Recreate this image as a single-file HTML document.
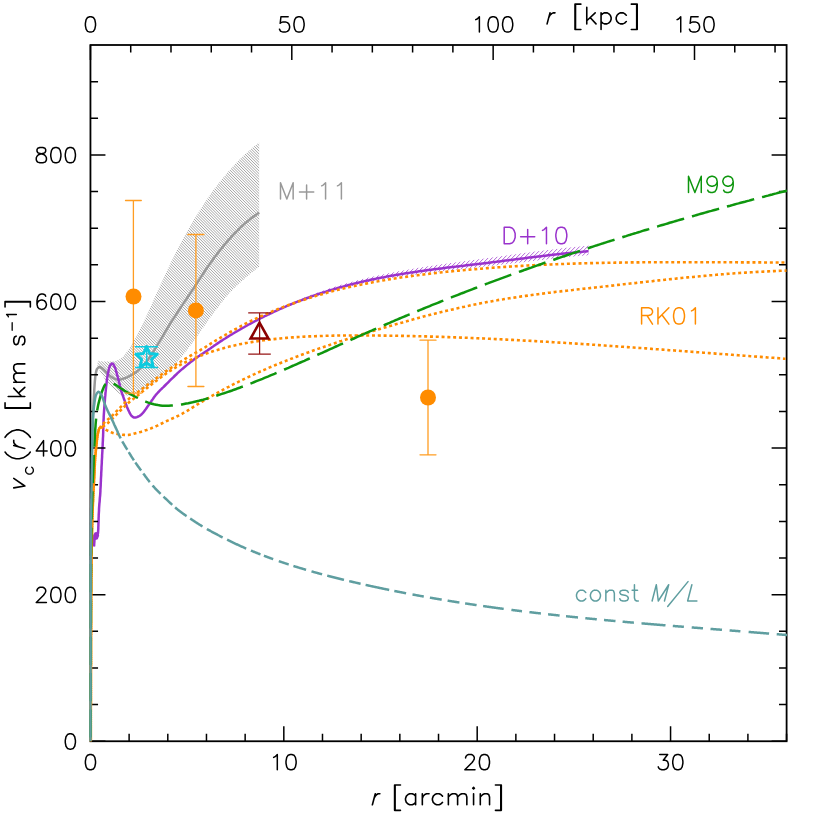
<!DOCTYPE html>
<html><head><meta charset="utf-8"><title>v_c(r)</title>
<style>
html,body{margin:0;padding:0;background:#fff;}
svg{display:block;}
body{font-family:"Liberation Sans",sans-serif;}
</style></head>
<body>
<svg width="830" height="830" viewBox="0 0 830 830">
<title>Circular velocity curves v_c(r)</title>
<desc>Axes: r [arcmin] (bottom, 0-36), r [kpc] (top, 0-150), v_c(r) [km s^-1] (left, 0-950). Curves: M+11 (grey, hatched band), D+10 (purple), M99 (green long-dashed), RK01 (orange dotted), const M/L (teal dashed). Data points with error bars.</desc>
<rect width="830" height="830" fill="#fff"/>

<!-- gray hatched band M+11 -->
<clipPath id="cg"><path d="M98.6 360.6 L100.0 360.9 L101.4 361.2 L102.8 361.4 L104.2 361.5 L105.6 361.5 L107.0 361.5 L108.5 361.5 L109.9 361.5 L111.3 361.5 L112.7 361.5 L114.1 361.3 L115.6 360.9 L117.0 360.5 L118.3 359.9 L119.5 359.4 L120.6 358.8 L121.7 358.0 L122.7 357.0 L123.7 356.0 L124.7 354.8 L125.6 353.6 L126.4 352.4 L127.3 351.2 L128.2 350.1 L129.0 348.9 L129.8 347.8 L130.5 346.6 L131.3 345.4 L132.0 344.1 L132.7 342.9 L133.5 341.7 L134.1 340.4 L134.8 339.2 L135.5 338.0 L136.2 336.7 L136.9 335.5 L137.5 334.2 L138.2 333.0 L138.8 331.7 L139.4 330.4 L140.1 329.2 L140.7 327.9 L141.3 326.6 L141.9 325.3 L142.5 324.1 L143.2 322.8 L143.8 321.5 L144.4 320.2 L145.0 318.9 L145.6 317.7 L146.2 316.4 L146.8 315.1 L147.4 313.8 L148.0 312.5 L148.6 311.2 L149.2 310.0 L149.7 308.7 L150.3 307.4 L150.9 306.1 L151.5 304.8 L152.1 303.5 L152.6 302.2 L153.2 300.9 L153.8 299.6 L154.4 298.3 L154.9 297.0 L155.5 295.7 L156.1 294.4 L156.7 293.1 L157.3 291.8 L157.8 290.6 L158.4 289.3 L159.0 288.0 L159.6 286.7 L160.2 285.4 L160.8 284.1 L161.4 282.8 L162.0 281.5 L162.6 280.3 L163.2 279.0 L163.8 277.7 L164.4 276.4 L164.9 275.1 L165.5 273.8 L166.1 272.5 L166.7 271.3 L167.3 270.0 L167.9 268.7 L168.6 267.4 L169.2 266.1 L169.8 264.9 L170.4 263.6 L171.0 262.3 L171.6 261.0 L172.2 259.8 L172.9 258.5 L173.5 257.2 L174.1 256.0 L174.8 254.7 L175.4 253.4 L176.0 252.2 L176.7 250.9 L177.3 249.6 L178.0 248.4 L178.6 247.1 L179.3 245.9 L179.9 244.6 L180.6 243.3 L181.2 242.1 L181.9 240.8 L182.6 239.6 L183.3 238.3 L183.9 237.1 L184.6 235.9 L185.3 234.6 L186.0 233.4 L186.7 232.1 L187.4 230.9 L188.1 229.7 L188.8 228.5 L189.5 227.2 L190.2 226.0 L190.9 224.8 L191.6 223.6 L192.4 222.3 L193.1 221.1 L193.8 219.9 L194.5 218.7 L195.3 217.5 L196.0 216.3 L196.8 215.1 L197.5 213.9 L198.3 212.7 L199.0 211.5 L199.8 210.3 L200.5 209.1 L201.3 207.9 L202.1 206.7 L202.8 205.5 L203.6 204.3 L204.4 203.1 L205.2 201.9 L206.0 200.8 L206.8 199.6 L207.6 198.4 L208.4 197.3 L209.2 196.1 L210.0 195.0 L210.8 193.8 L211.6 192.6 L212.5 191.5 L213.3 190.3 L214.1 189.2 L215.0 188.1 L215.8 186.9 L216.7 185.8 L217.6 184.7 L218.4 183.6 L219.3 182.4 L220.2 181.3 L221.1 180.2 L222.0 179.1 L222.9 178.1 L223.8 177.0 L224.7 175.9 L225.6 174.8 L226.5 173.7 L227.4 172.6 L228.4 171.6 L229.3 170.5 L230.2 169.4 L231.2 168.4 L232.2 167.3 L233.1 166.3 L234.1 165.2 L235.0 164.2 L236.0 163.2 L237.0 162.2 L238.0 161.1 L239.0 160.1 L240.0 159.1 L241.0 158.1 L242.0 157.2 L243.0 156.2 L244.0 155.2 L245.1 154.3 L246.1 153.3 L247.2 152.4 L248.2 151.4 L249.3 150.5 L250.4 149.6 L251.5 148.6 L252.5 147.7 L253.6 146.8 L254.7 145.9 L255.8 145.0 L257.0 144.1 L258.1 143.3 L259.2 142.4 L259.2 266.8 L258.3 267.5 L257.3 268.2 L256.4 268.9 L255.5 269.7 L254.6 270.4 L253.6 271.1 L252.7 271.9 L251.8 272.6 L250.9 273.3 L250.0 274.1 L249.1 274.8 L248.2 275.6 L247.3 276.3 L246.4 277.1 L245.6 277.9 L244.7 278.6 L243.8 279.4 L242.9 280.2 L242.1 281.0 L241.2 281.8 L240.3 282.5 L239.4 283.3 L238.6 284.1 L237.7 284.9 L236.9 285.7 L236.0 286.5 L235.2 287.3 L234.3 288.2 L233.5 289.0 L232.7 289.8 L231.8 290.7 L231.0 291.5 L230.2 292.3 L229.5 293.2 L228.7 294.1 L227.9 294.9 L227.1 295.8 L226.4 296.7 L225.6 297.6 L224.9 298.5 L224.1 299.4 L223.4 300.3 L222.7 301.2 L221.9 302.2 L221.2 303.1 L220.5 304.0 L219.8 304.9 L219.1 305.9 L218.3 306.8 L217.6 307.7 L216.9 308.7 L216.2 309.6 L215.5 310.6 L214.8 311.5 L214.1 312.4 L213.4 313.4 L212.7 314.3 L212.0 315.2 L211.3 316.2 L210.6 317.1 L210.0 318.1 L209.3 319.1 L208.6 320.0 L207.9 321.0 L207.3 321.9 L206.6 322.9 L205.9 323.8 L205.2 324.8 L204.6 325.8 L203.9 326.7 L203.2 327.7 L202.5 328.6 L201.8 329.6 L201.2 330.5 L200.5 331.5 L199.8 332.4 L199.1 333.4 L198.5 334.4 L197.8 335.3 L197.1 336.3 L196.4 337.2 L195.7 338.2 L195.1 339.1 L194.4 340.1 L193.7 341.0 L193.0 342.0 L192.3 342.9 L191.6 343.9 L190.9 344.8 L190.2 345.7 L189.5 346.7 L188.8 347.6 L188.1 348.5 L187.4 349.5 L186.7 350.4 L185.9 351.3 L185.2 352.2 L184.5 353.2 L183.8 354.1 L183.0 355.0 L182.3 355.9 L181.6 356.8 L180.8 357.7 L180.1 358.6 L179.3 359.5 L178.6 360.4 L177.8 361.3 L177.0 362.2 L176.2 363.1 L175.5 363.9 L174.7 364.8 L173.9 365.7 L173.1 366.5 L172.3 367.4 L171.5 368.2 L170.7 369.1 L169.8 369.9 L169.0 370.7 L168.2 371.6 L167.3 372.4 L166.5 373.2 L165.6 374.0 L164.7 374.7 L163.8 375.5 L162.9 376.2 L162.0 376.9 L161.1 377.7 L160.2 378.4 L159.2 379.1 L158.3 379.8 L157.3 380.5 L156.4 381.1 L155.4 381.8 L154.5 382.5 L153.5 383.1 L152.5 383.8 L151.5 384.4 L150.5 385.1 L149.5 385.7 L148.6 386.3 L147.6 387.0 L146.6 387.6 L145.6 388.2 L144.6 388.8 L143.5 389.3 L142.5 389.9 L141.5 390.5 L140.5 391.0 L139.4 391.6 L138.4 392.1 L137.4 392.7 L136.3 393.4 L135.3 394.1 L134.3 394.8 L133.2 395.3 L132.1 395.5 L131.0 395.6 L129.9 395.6 L128.7 395.6 L127.5 395.6 L126.3 395.6 L125.1 395.6 L124.0 395.6 L122.9 395.5 L121.8 395.1 L120.8 394.6 L119.8 393.9 L118.8 393.2 L117.8 392.4 L116.8 391.6 L115.9 390.8 L115.0 390.1 L114.1 389.4 L113.2 388.6 L112.3 387.8 L111.5 387.0 L110.6 386.2 L109.8 385.3 L109.0 384.4 L108.2 383.5 L107.5 382.6 L106.8 381.7 L106.1 380.8 L105.4 379.9 L104.8 379.0 L104.1 378.0 L103.5 377.0 L102.8 376.1 L102.2 375.1 L101.6 374.1 L101.0 373.0 L100.5 372.0 L99.9 371.0 L99.4 369.9 L98.9 368.8 L98.4 367.7 L97.9 366.6 L97.4 365.5 L97.0 364.4Z"/></clipPath>
<path d="M-165.00 140.00L95.00 400.00M-162.17 140.00L97.83 400.00M-159.34 140.00L100.66 400.00M-156.51 140.00L103.49 400.00M-153.69 140.00L106.31 400.00M-150.86 140.00L109.14 400.00M-148.03 140.00L111.97 400.00M-145.20 140.00L114.80 400.00M-142.37 140.00L117.63 400.00M-139.54 140.00L120.46 400.00M-136.72 140.00L123.28 400.00M-133.89 140.00L126.11 400.00M-131.06 140.00L128.94 400.00M-128.23 140.00L131.77 400.00M-125.40 140.00L134.60 400.00M-122.57 140.00L137.43 400.00M-119.75 140.00L140.25 400.00M-116.92 140.00L143.08 400.00M-114.09 140.00L145.91 400.00M-111.26 140.00L148.74 400.00M-108.43 140.00L151.57 400.00M-105.60 140.00L154.40 400.00M-102.77 140.00L157.23 400.00M-99.95 140.00L160.05 400.00M-97.12 140.00L162.88 400.00M-94.29 140.00L165.71 400.00M-91.46 140.00L168.54 400.00M-88.63 140.00L171.37 400.00M-85.80 140.00L174.20 400.00M-82.98 140.00L177.02 400.00M-80.15 140.00L179.85 400.00M-77.32 140.00L182.68 400.00M-74.49 140.00L185.51 400.00M-71.66 140.00L188.34 400.00M-68.83 140.00L191.17 400.00M-66.01 140.00L193.99 400.00M-63.18 140.00L196.82 400.00M-60.35 140.00L199.65 400.00M-57.52 140.00L202.48 400.00M-54.69 140.00L205.31 400.00M-51.86 140.00L208.14 400.00M-49.03 140.00L210.97 400.00M-46.21 140.00L213.79 400.00M-43.38 140.00L216.62 400.00M-40.55 140.00L219.45 400.00M-37.72 140.00L222.28 400.00M-34.89 140.00L225.11 400.00M-32.06 140.00L227.94 400.00M-29.24 140.00L230.76 400.00M-26.41 140.00L233.59 400.00M-23.58 140.00L236.42 400.00M-20.75 140.00L239.25 400.00M-17.92 140.00L242.08 400.00M-15.09 140.00L244.91 400.00M-12.26 140.00L247.74 400.00M-9.44 140.00L250.56 400.00M-6.61 140.00L253.39 400.00M-3.78 140.00L256.22 400.00M-0.95 140.00L259.05 400.00M1.88 140.00L261.88 400.00M4.71 140.00L264.71 400.00M7.53 140.00L267.53 400.00M10.36 140.00L270.36 400.00M13.19 140.00L273.19 400.00M16.02 140.00L276.02 400.00M18.85 140.00L278.85 400.00M21.68 140.00L281.68 400.00M24.50 140.00L284.50 400.00M27.33 140.00L287.33 400.00M30.16 140.00L290.16 400.00M32.99 140.00L292.99 400.00M35.82 140.00L295.82 400.00M38.65 140.00L298.65 400.00M41.48 140.00L301.48 400.00M44.30 140.00L304.30 400.00M47.13 140.00L307.13 400.00M49.96 140.00L309.96 400.00M52.79 140.00L312.79 400.00M55.62 140.00L315.62 400.00M58.45 140.00L318.45 400.00M61.27 140.00L321.27 400.00M64.10 140.00L324.10 400.00M66.93 140.00L326.93 400.00M69.76 140.00L329.76 400.00M72.59 140.00L332.59 400.00M75.42 140.00L335.42 400.00M78.24 140.00L338.24 400.00M81.07 140.00L341.07 400.00M83.90 140.00L343.90 400.00M86.73 140.00L346.73 400.00M89.56 140.00L349.56 400.00M92.39 140.00L352.39 400.00M95.22 140.00L355.22 400.00M98.04 140.00L358.04 400.00M100.87 140.00L360.87 400.00M103.70 140.00L363.70 400.00M106.53 140.00L366.53 400.00M109.36 140.00L369.36 400.00M112.19 140.00L372.19 400.00M115.01 140.00L375.01 400.00M117.84 140.00L377.84 400.00M120.67 140.00L380.67 400.00M123.50 140.00L383.50 400.00M126.33 140.00L386.33 400.00M129.16 140.00L389.16 400.00M131.98 140.00L391.98 400.00M134.81 140.00L394.81 400.00M137.64 140.00L397.64 400.00M140.47 140.00L400.47 400.00M143.30 140.00L403.30 400.00M146.13 140.00L406.13 400.00M148.96 140.00L408.96 400.00M151.78 140.00L411.78 400.00M154.61 140.00L414.61 400.00M157.44 140.00L417.44 400.00M160.27 140.00L420.27 400.00M163.10 140.00L423.10 400.00M165.93 140.00L425.93 400.00M168.75 140.00L428.75 400.00M171.58 140.00L431.58 400.00M174.41 140.00L434.41 400.00M177.24 140.00L437.24 400.00M180.07 140.00L440.07 400.00M182.90 140.00L442.90 400.00M185.72 140.00L445.72 400.00M188.55 140.00L448.55 400.00M191.38 140.00L451.38 400.00M194.21 140.00L454.21 400.00M197.04 140.00L457.04 400.00M199.87 140.00L459.87 400.00M202.70 140.00L462.70 400.00M205.52 140.00L465.52 400.00M208.35 140.00L468.35 400.00M211.18 140.00L471.18 400.00M214.01 140.00L474.01 400.00M216.84 140.00L476.84 400.00M219.67 140.00L479.67 400.00M222.49 140.00L482.49 400.00M225.32 140.00L485.32 400.00M228.15 140.00L488.15 400.00M230.98 140.00L490.98 400.00M233.81 140.00L493.81 400.00M236.64 140.00L496.64 400.00M239.47 140.00L499.47 400.00M242.29 140.00L502.29 400.00M245.12 140.00L505.12 400.00M247.95 140.00L507.95 400.00M250.78 140.00L510.78 400.00M253.61 140.00L513.61 400.00M256.44 140.00L516.44 400.00M259.26 140.00L519.26 400.00" clip-path="url(#cg)" stroke="#858585" stroke-width="0.75" fill="none"/>
<path d="M90.9 560.0 L90.9 558.5 L90.9 557.1 L90.9 555.6 L90.9 554.1 L90.9 552.6 L90.9 551.2 L90.9 549.7 L90.9 548.2 L90.9 546.8 L90.9 545.3 L90.9 543.8 L90.9 542.3 L91.0 540.9 L91.0 539.4 L91.0 537.9 L91.0 536.5 L91.0 535.0 L91.0 533.5 L91.0 532.0 L91.0 530.6 L91.0 529.1 L91.0 527.6 L91.0 526.2 L91.0 524.7 L91.0 523.2 L91.1 521.7 L91.1 520.3 L91.1 518.8 L91.1 517.3 L91.1 515.9 L91.1 514.4 L91.1 512.9 L91.1 511.4 L91.1 510.0 L91.1 508.5 L91.2 507.0 L91.2 505.6 L91.2 504.1 L91.2 502.6 L91.2 501.1 L91.2 499.7 L91.2 498.2 L91.2 496.7 L91.2 495.3 L91.2 493.8 L91.3 492.3 L91.3 490.8 L91.3 489.4 L91.3 487.9 L91.3 486.4 L91.3 484.9 L91.3 483.5 L91.4 482.0 L91.4 480.5 L91.4 479.1 L91.4 477.6 L91.4 476.1 L91.4 474.6 L91.5 473.2 L91.5 471.7 L91.5 470.2 L91.5 468.8 L91.5 467.3 L91.5 465.8 L91.6 464.3 L91.6 462.9 L91.6 461.4 L91.6 459.9 L91.7 458.5 L91.7 457.0 L91.7 455.5 L91.7 454.0 L91.8 452.6 L91.8 451.1 L91.8 449.6 L91.8 448.2 L91.9 446.7 L91.9 445.2 L91.9 443.8 L92.0 442.3 L92.0 440.8 L92.1 439.3 L92.1 437.9 L92.2 436.4 L92.2 434.9 L92.3 433.5 L92.3 432.0 L92.4 430.5 L92.4 429.0 L92.5 427.6 L92.6 426.1 L92.6 424.6 L92.7 423.2 L92.7 421.7 L92.8 420.2 L92.8 418.7 L92.9 417.3 L93.0 415.8 L93.0 414.3 L93.1 412.9 L93.2 411.4 L93.2 409.9 L93.3 408.5 L93.4 407.0 L93.4 405.5 L93.5 404.0 L93.6 402.6 L93.7 401.1 L93.7 399.6 L93.8 398.2 L93.9 396.7 L94.0 395.2 L94.1 393.8 L94.2 392.3 L94.2 390.8 L94.3 389.3 L94.4 387.9 L94.5 386.4 L94.6 384.9 L94.7 383.5 L94.8 382.0 L94.9 380.5 L95.1 379.1 L95.2 377.6 L95.4 376.1 L95.6 374.6 L95.9 373.1 L96.2 371.6 L96.5 370.3 L97.0 369.0 L98.1 367.7 L99.3 366.9 L100.5 367.2 L101.8 368.1 L103.1 369.1 L104.2 370.0 L105.2 371.1 L106.2 372.2 L107.2 373.2 L108.3 374.3 L109.4 375.3 L110.5 376.3 L111.7 377.2 L112.9 377.9 L114.2 378.6 L115.6 379.1 L117.1 379.5 L118.5 379.6 L119.9 379.4 L121.4 379.2 L122.9 378.8 L124.3 378.4 L125.6 377.9 L127.0 377.3 L128.3 376.7 L129.6 376.0 L130.9 375.3 L132.2 374.6 L133.5 373.9 L134.8 373.1 L136.0 372.2 L137.1 371.3 L138.2 370.3 L139.3 369.3 L140.3 368.3 L141.4 367.2 L142.4 366.2 L143.4 365.1 L144.4 364.0 L145.4 362.9 L146.4 361.8 L147.3 360.7 L148.2 359.5 L149.0 358.3 L149.9 357.1 L150.7 355.9 L151.5 354.7 L152.3 353.4 L153.1 352.2 L153.8 350.9 L154.6 349.7 L155.4 348.4 L156.1 347.1 L156.9 345.9 L157.6 344.6 L158.4 343.3 L159.2 342.1 L159.9 340.8 L160.7 339.6 L161.4 338.3 L162.2 337.0 L162.9 335.8 L163.7 334.5 L164.4 333.2 L165.2 331.9 L165.9 330.7 L166.7 329.4 L167.4 328.1 L168.2 326.9 L169.0 325.6 L169.7 324.4 L170.5 323.1 L171.3 321.9 L172.1 320.7 L172.9 319.4 L173.7 318.2 L174.5 317.0 L175.3 315.7 L176.1 314.5 L176.9 313.3 L177.7 312.0 L178.5 310.8 L179.3 309.6 L180.2 308.3 L181.0 307.1 L181.8 305.9 L182.6 304.7 L183.4 303.4 L184.2 302.2 L185.0 301.0 L185.9 299.8 L186.7 298.6 L187.5 297.3 L188.3 296.1 L189.2 294.9 L190.0 293.7 L190.8 292.5 L191.6 291.2 L192.4 290.0 L193.3 288.8 L194.1 287.6 L194.9 286.3 L195.7 285.1 L196.5 283.9 L197.3 282.6 L198.1 281.4 L198.9 280.2 L199.7 278.9 L200.5 277.7 L201.3 276.4 L202.1 275.2 L202.9 274.0 L203.7 272.8 L204.5 271.5 L205.3 270.3 L206.2 269.1 L207.0 267.9 L207.8 266.7 L208.7 265.5 L209.5 264.3 L210.4 263.1 L211.2 261.9 L212.1 260.7 L213.0 259.5 L213.8 258.3 L214.7 257.1 L215.6 255.9 L216.5 254.8 L217.4 253.6 L218.3 252.4 L219.2 251.3 L220.1 250.1 L221.0 249.0 L221.9 247.8 L222.9 246.7 L223.8 245.5 L224.7 244.4 L225.7 243.3 L226.6 242.2 L227.6 241.1 L228.6 239.9 L229.6 238.8 L230.5 237.8 L231.5 236.7 L232.5 235.6 L233.5 234.5 L234.6 233.4 L235.6 232.4 L236.6 231.3 L237.7 230.3 L238.7 229.3 L239.8 228.2 L240.8 227.2 L241.9 226.2 L243.0 225.2 L244.1 224.2 L245.2 223.2 L246.3 222.3 L247.4 221.3 L248.5 220.4 L249.7 219.5 L250.8 218.6 L252.0 217.7 L253.2 216.8 L254.4 215.9 L255.6 215.1 L256.8 214.2 L258.0 213.4 L259.2 212.5" fill="none" stroke="#999" stroke-width="2.5" stroke-linejoin="round"/>

<!-- D+10 -->
<clipPath id="cp"><path d="M285.1 306.5 L286.5 305.8 L287.9 305.1 L289.2 304.4 L290.6 303.8 L292.0 303.1 L293.4 302.4 L294.8 301.8 L296.2 301.1 L297.5 300.5 L298.9 299.8 L300.3 299.2 L301.7 298.6 L303.1 298.1 L304.5 297.5 L305.9 297.0 L307.3 296.4 L308.7 295.9 L310.2 295.3 L311.6 294.8 L313.0 294.3 L314.4 293.8 L315.8 293.2 L317.2 292.7 L318.6 292.2 L320.1 291.7 L321.5 291.2 L322.9 290.7 L324.3 290.2 L325.8 289.7 L327.2 289.3 L328.6 288.8 L330.0 288.3 L331.5 287.9 L332.9 287.4 L334.3 287.0 L335.8 286.5 L337.2 286.1 L338.6 285.6 L340.1 285.2 L341.5 284.8 L343.0 284.3 L344.4 283.9 L345.9 283.5 L347.3 283.1 L348.8 282.7 L350.2 282.3 L351.7 281.9 L353.1 281.5 L354.6 281.1 L356.0 280.7 L357.5 280.3 L358.9 280.0 L360.4 279.6 L361.8 279.2 L363.3 278.9 L364.7 278.5 L366.2 278.2 L367.7 277.8 L369.1 277.5 L370.6 277.1 L372.1 276.8 L373.5 276.5 L375.0 276.1 L376.4 275.8 L377.9 275.5 L379.4 275.2 L380.9 274.9 L382.3 274.5 L383.8 274.2 L385.3 273.9 L386.7 273.6 L388.2 273.3 L389.7 273.0 L391.2 272.7 L392.6 272.5 L394.1 272.2 L395.6 271.9 L397.0 271.6 L398.5 271.3 L400.0 271.1 L401.5 270.8 L403.0 270.5 L404.4 270.3 L405.9 270.0 L407.4 269.7 L408.9 269.5 L410.3 269.2 L411.8 269.0 L413.3 268.7 L414.8 268.5 L416.3 268.2 L417.7 268.0 L419.2 267.8 L420.7 267.5 L422.2 267.3 L423.7 267.0 L425.2 266.8 L426.6 266.6 L428.1 266.3 L429.6 266.1 L431.1 265.9 L432.6 265.7 L434.1 265.4 L435.5 265.2 L437.0 265.0 L438.5 264.8 L440.0 264.5 L441.5 264.3 L443.0 264.1 L444.4 263.9 L445.9 263.7 L447.4 263.5 L448.9 263.3 L450.4 263.1 L451.9 262.9 L453.4 262.7 L454.8 262.5 L456.3 262.3 L457.8 262.1 L459.3 261.9 L460.8 261.7 L462.3 261.5 L463.8 261.3 L465.2 261.1 L466.7 260.9 L468.2 260.7 L469.7 260.5 L471.2 260.3 L472.7 260.1 L474.2 259.9 L475.6 259.7 L477.1 259.5 L478.6 259.3 L480.1 259.1 L481.6 258.9 L483.1 258.7 L484.6 258.5 L486.0 258.3 L487.5 258.1 L489.0 257.9 L490.5 257.7 L492.0 257.5 L493.5 257.3 L495.0 257.1 L496.4 256.9 L497.9 256.7 L499.4 256.5 L500.9 256.3 L502.4 256.1 L503.9 255.9 L505.3 255.6 L506.8 255.4 L508.3 255.2 L509.8 255.0 L511.3 254.8 L512.8 254.6 L514.3 254.4 L515.7 254.2 L517.2 254.0 L518.7 253.8 L520.2 253.6 L521.7 253.4 L523.2 253.2 L524.6 253.0 L526.1 252.8 L527.6 252.6 L529.1 252.4 L530.6 252.2 L532.1 252.0 L533.6 251.8 L535.0 251.6 L536.5 251.4 L538.0 251.2 L539.5 251.1 L541.0 250.9 L542.5 250.7 L544.0 250.5 L545.4 250.3 L546.9 250.1 L548.4 249.9 L549.9 249.8 L551.4 249.6 L552.9 249.4 L554.4 249.2 L555.8 249.0 L557.3 248.9 L558.8 248.7 L560.3 248.5 L561.8 248.3 L563.3 248.2 L564.8 248.0 L566.3 247.8 L567.7 247.7 L569.2 247.5 L570.7 247.4 L572.2 247.2 L573.7 247.1 L575.2 246.9 L576.7 246.8 L578.2 246.6 L579.7 246.5 L581.1 246.3 L582.6 246.2 L584.1 246.0 L585.6 245.9 L587.1 245.7 L588.6 245.6 L588.6 255.2 L587.1 255.3 L585.6 255.4 L584.1 255.6 L582.6 255.7 L581.1 255.8 L579.7 256.0 L578.2 256.1 L576.7 256.2 L575.2 256.4 L573.7 256.5 L572.2 256.7 L570.7 256.8 L569.2 257.0 L567.7 257.1 L566.3 257.2 L564.8 257.4 L563.3 257.5 L561.8 257.7 L560.3 257.9 L558.8 258.0 L557.3 258.2 L555.8 258.3 L554.4 258.5 L552.9 258.7 L551.4 258.8 L549.9 259.0 L548.4 259.2 L546.9 259.4 L545.4 259.5 L544.0 259.7 L542.5 259.9 L541.0 260.0 L539.5 260.2 L538.0 260.4 L536.5 260.6 L535.0 260.7 L533.6 260.9 L532.1 261.1 L530.6 261.3 L529.1 261.5 L527.6 261.7 L526.1 261.8 L524.6 262.0 L523.2 262.2 L521.7 262.4 L520.2 262.6 L518.7 262.7 L517.2 262.9 L515.7 263.1 L514.3 263.3 L512.8 263.4 L511.3 263.6 L509.8 263.8 L508.3 263.9 L506.8 264.1 L505.3 264.3 L503.9 264.4 L502.4 264.6 L500.9 264.8 L499.4 264.9 L497.9 265.1 L496.4 265.3 L495.0 265.5 L493.5 265.6 L492.0 265.8 L490.5 266.0 L489.0 266.1 L487.5 266.3 L486.0 266.4 L484.6 266.6 L483.1 266.8 L481.6 266.9 L480.1 267.1 L478.6 267.2 L477.1 267.4 L475.6 267.6 L474.2 267.7 L472.7 267.9 L471.2 268.0 L469.7 268.2 L468.2 268.3 L466.7 268.5 L465.2 268.7 L463.8 268.8 L462.3 269.0 L460.8 269.2 L459.3 269.3 L457.8 269.5 L456.3 269.6 L454.8 269.8 L453.4 270.0 L451.9 270.1 L450.4 270.3 L448.9 270.4 L447.4 270.6 L445.9 270.8 L444.4 270.9 L443.0 271.1 L441.5 271.3 L440.0 271.4 L438.5 271.6 L437.0 271.8 L435.5 271.9 L434.1 272.1 L432.6 272.3 L431.1 272.5 L429.6 272.7 L428.1 272.8 L426.6 273.0 L425.2 273.2 L423.7 273.4 L422.2 273.6 L420.7 273.8 L419.2 274.0 L417.7 274.2 L416.3 274.4 L414.8 274.6 L413.3 274.8 L411.8 275.0 L410.3 275.2 L408.9 275.4 L407.4 275.6 L405.9 275.8 L404.4 276.0 L403.0 276.2 L401.5 276.5 L400.0 276.7 L398.5 276.9 L397.0 277.1 L395.6 277.4 L394.1 277.6 L392.6 277.8 L391.2 278.1 L389.7 278.3 L388.2 278.6 L386.7 278.8 L385.3 279.1 L383.8 279.3 L382.3 279.6 L380.9 279.9 L379.4 280.1 L377.9 280.4 L376.4 280.7 L375.0 281.0 L373.5 281.3 L372.1 281.6 L370.6 281.8 L369.1 282.1 L367.7 282.4 L366.2 282.7 L364.7 283.0 L363.3 283.4 L361.8 283.7 L360.4 284.0 L358.9 284.3 L357.5 284.7 L356.0 285.0 L354.6 285.3 L353.1 285.7 L351.7 286.0 L350.2 286.4 L348.8 286.7 L347.3 287.1 L345.9 287.5 L344.4 287.8 L343.0 288.2 L341.5 288.6 L340.1 289.0 L338.6 289.4 L337.2 289.8 L335.8 290.2 L334.3 290.6 L332.9 291.0 L331.5 291.4 L330.0 291.8 L328.6 292.2 L327.2 292.6 L325.8 293.0 L324.3 293.5 L322.9 293.9 L321.5 294.4 L320.1 294.8 L318.6 295.3 L317.2 295.7 L315.8 296.2 L314.4 296.7 L313.0 297.1 L311.6 297.6 L310.2 298.1 L308.7 298.6 L307.3 299.1 L305.9 299.6 L304.5 300.1 L303.1 300.6 L301.7 301.1 L300.3 301.6 L298.9 302.1 L297.5 302.6 L296.2 303.0 L294.8 303.5 L293.4 304.0 L292.0 304.5 L290.6 305.0 L289.2 305.5 L287.9 306.0 L286.5 306.5 L285.1 307.0Z"/></clipPath>
<path d="M262.00 240.00L177.00 325.00M266.00 240.00L181.00 325.00M270.00 240.00L185.00 325.00M274.01 240.00L189.01 325.00M278.01 240.00L193.01 325.00M282.01 240.00L197.01 325.00M286.01 240.00L201.01 325.00M290.02 240.00L205.02 325.00M294.02 240.00L209.02 325.00M298.02 240.00L213.02 325.00M302.02 240.00L217.02 325.00M306.02 240.00L221.02 325.00M310.03 240.00L225.03 325.00M314.03 240.00L229.03 325.00M318.03 240.00L233.03 325.00M322.03 240.00L237.03 325.00M326.04 240.00L241.04 325.00M330.04 240.00L245.04 325.00M334.04 240.00L249.04 325.00M338.04 240.00L253.04 325.00M342.04 240.00L257.04 325.00M346.05 240.00L261.05 325.00M350.05 240.00L265.05 325.00M354.05 240.00L269.05 325.00M358.05 240.00L273.05 325.00M362.06 240.00L277.06 325.00M366.06 240.00L281.06 325.00M370.06 240.00L285.06 325.00M374.06 240.00L289.06 325.00M378.06 240.00L293.06 325.00M382.07 240.00L297.07 325.00M386.07 240.00L301.07 325.00M390.07 240.00L305.07 325.00M394.07 240.00L309.07 325.00M398.08 240.00L313.08 325.00M402.08 240.00L317.08 325.00M406.08 240.00L321.08 325.00M410.08 240.00L325.08 325.00M414.08 240.00L329.08 325.00M418.09 240.00L333.09 325.00M422.09 240.00L337.09 325.00M426.09 240.00L341.09 325.00M430.09 240.00L345.09 325.00M434.10 240.00L349.10 325.00M438.10 240.00L353.10 325.00M442.10 240.00L357.10 325.00M446.10 240.00L361.10 325.00M450.10 240.00L365.10 325.00M454.11 240.00L369.11 325.00M458.11 240.00L373.11 325.00M462.11 240.00L377.11 325.00M466.11 240.00L381.11 325.00M470.12 240.00L385.12 325.00M474.12 240.00L389.12 325.00M478.12 240.00L393.12 325.00M482.12 240.00L397.12 325.00M486.12 240.00L401.12 325.00M490.13 240.00L405.13 325.00M494.13 240.00L409.13 325.00M498.13 240.00L413.13 325.00M502.13 240.00L417.13 325.00M506.14 240.00L421.14 325.00M510.14 240.00L425.14 325.00M514.14 240.00L429.14 325.00M518.14 240.00L433.14 325.00M522.14 240.00L437.14 325.00M526.15 240.00L441.15 325.00M530.15 240.00L445.15 325.00M534.15 240.00L449.15 325.00M538.15 240.00L453.15 325.00M542.16 240.00L457.16 325.00M546.16 240.00L461.16 325.00M550.16 240.00L465.16 325.00M554.16 240.00L469.16 325.00M558.16 240.00L473.16 325.00M562.17 240.00L477.17 325.00M566.17 240.00L481.17 325.00M570.17 240.00L485.17 325.00M574.17 240.00L489.17 325.00M578.18 240.00L493.18 325.00M582.18 240.00L497.18 325.00M586.18 240.00L501.18 325.00M590.18 240.00L505.18 325.00M594.18 240.00L509.18 325.00M598.19 240.00L513.19 325.00M602.19 240.00L517.19 325.00M606.19 240.00L521.19 325.00M610.19 240.00L525.19 325.00M614.20 240.00L529.20 325.00M618.20 240.00L533.20 325.00M622.20 240.00L537.20 325.00M626.20 240.00L541.20 325.00M630.20 240.00L545.20 325.00M634.21 240.00L549.21 325.00M638.21 240.00L553.21 325.00M642.21 240.00L557.21 325.00M646.21 240.00L561.21 325.00M650.22 240.00L565.22 325.00M654.22 240.00L569.22 325.00M658.22 240.00L573.22 325.00M662.22 240.00L577.22 325.00M666.22 240.00L581.22 325.00M670.23 240.00L585.23 325.00M674.23 240.00L589.23 325.00M678.23 240.00L593.23 325.00" clip-path="url(#cp)" stroke="#9932cc" stroke-width="0.95" stroke-opacity="0.8" fill="none"/>
<path d="M93.9 546.3 L93.9 544.8 L93.9 543.3 L94.0 541.8 L94.0 540.3 L94.1 538.8 L94.3 537.3 L94.6 535.8 L95.5 534.5 L96.7 535.4 L97.6 534.8 L98.0 533.2 L98.1 531.7 L98.2 530.2 L98.3 528.7 L98.3 527.2 L98.4 525.7 L98.4 524.2 L98.5 522.7 L98.5 521.2 L98.6 519.7 L98.6 518.2 L98.7 516.7 L98.7 515.2 L98.8 513.7 L98.9 512.2 L99.0 510.7 L99.0 509.2 L99.1 507.7 L99.2 506.2 L99.3 504.8 L99.4 503.3 L99.6 501.8 L99.7 500.3 L99.8 498.8 L99.9 497.3 L100.1 495.8 L100.2 494.3 L100.3 492.8 L100.4 491.3 L100.4 489.8 L100.5 488.3 L100.6 486.8 L100.7 485.3 L100.7 483.9 L100.8 482.4 L100.9 480.9 L100.9 479.4 L101.0 477.9 L101.1 476.4 L101.2 474.9 L101.2 473.4 L101.3 471.9 L101.4 470.4 L101.5 468.9 L101.5 467.4 L101.6 465.9 L101.7 464.4 L101.8 462.9 L101.8 461.4 L101.9 459.9 L102.0 458.4 L102.1 457.0 L102.1 455.5 L102.2 454.0 L102.3 452.5 L102.4 451.0 L102.4 449.5 L102.5 448.0 L102.6 446.5 L102.7 445.0 L102.7 443.5 L102.8 442.0 L102.9 440.5 L102.9 439.0 L103.0 437.5 L103.1 436.0 L103.1 434.5 L103.2 433.0 L103.2 431.5 L103.2 430.0 L103.3 428.6 L103.3 427.1 L103.4 425.6 L103.4 424.1 L103.5 422.6 L103.5 421.1 L103.6 419.6 L103.7 418.1 L103.7 416.6 L103.8 415.1 L103.9 413.6 L104.0 412.1 L104.1 410.6 L104.2 409.1 L104.3 407.6 L104.4 406.1 L104.5 404.6 L104.7 403.2 L104.8 401.7 L104.9 400.2 L105.0 398.7 L105.1 397.2 L105.3 395.7 L105.4 394.2 L105.5 392.7 L105.7 391.2 L105.8 389.7 L106.0 388.3 L106.1 386.8 L106.3 385.3 L106.5 383.8 L106.6 382.3 L106.8 380.8 L107.0 379.3 L107.2 377.9 L107.4 376.4 L107.7 374.9 L108.0 373.4 L108.3 372.0 L108.6 370.5 L108.9 369.0 L109.3 367.5 L109.8 366.1 L110.5 364.8 L111.7 363.6 L112.8 363.8 L113.8 365.1 L114.5 366.5 L115.1 367.8 L115.6 369.2 L116.0 370.7 L116.4 372.2 L116.8 373.6 L117.2 375.1 L117.6 376.5 L118.0 378.0 L118.4 379.4 L118.8 380.9 L119.1 382.3 L119.5 383.8 L119.8 385.2 L120.2 386.7 L120.5 388.1 L120.9 389.6 L121.3 391.0 L121.7 392.5 L122.2 393.9 L122.7 395.3 L123.2 396.7 L123.7 398.1 L124.2 399.5 L124.7 400.9 L125.2 402.3 L125.7 403.8 L126.3 405.1 L126.8 406.5 L127.4 407.9 L128.0 409.3 L128.6 410.7 L129.3 412.0 L129.9 413.4 L130.7 414.7 L131.6 415.9 L132.7 416.9 L134.1 417.6 L135.5 417.6 L136.9 417.1 L138.3 416.5 L139.7 415.8 L140.9 414.9 L141.9 414.0 L142.9 412.9 L143.9 411.7 L144.8 410.5 L145.7 409.3 L146.6 408.0 L147.4 406.8 L148.3 405.6 L149.2 404.3 L150.1 403.1 L150.9 401.9 L151.7 400.6 L152.6 399.4 L153.4 398.2 L154.3 396.9 L155.2 395.8 L156.1 394.6 L157.1 393.5 L158.1 392.4 L159.1 391.3 L160.2 390.2 L161.3 389.2 L162.3 388.1 L163.4 387.1 L164.5 386.0 L165.5 385.0 L166.6 383.9 L167.7 382.8 L168.7 381.8 L169.8 380.7 L170.8 379.7 L171.9 378.6 L173.0 377.6 L174.1 376.5 L175.1 375.5 L176.2 374.5 L177.3 373.4 L178.4 372.4 L179.5 371.4 L180.6 370.4 L181.8 369.4 L182.9 368.5 L184.0 367.5 L185.2 366.5 L186.3 365.6 L187.5 364.6 L188.6 363.7 L189.8 362.7 L191.0 361.8 L192.2 360.9 L193.4 360.0 L194.6 359.1 L195.8 358.2 L197.0 357.4 L198.2 356.5 L199.5 355.7 L200.7 354.8 L202.0 354.0 L203.2 353.2 L204.5 352.4 L205.7 351.5 L207.0 350.7 L208.2 349.9 L209.4 349.0 L210.7 348.2 L211.9 347.3 L213.1 346.5 L214.3 345.6 L215.6 344.8 L216.8 343.9 L218.0 343.1 L219.3 342.2 L220.5 341.4 L221.8 340.6 L223.0 339.8 L224.3 339.0 L225.6 338.2 L226.8 337.4 L228.1 336.6 L229.4 335.8 L230.7 335.0 L231.9 334.3 L233.2 333.5 L234.5 332.7 L235.8 332.0 L237.1 331.2 L238.4 330.5 L239.7 329.7 L241.0 328.9 L242.3 328.2 L243.6 327.5 L244.9 326.7 L246.2 326.0 L247.5 325.2 L248.8 324.5 L250.1 323.8 L251.4 323.1 L252.7 322.4 L254.1 321.7 L255.4 321.0 L256.7 320.3 L258.0 319.6 L259.4 318.9 L260.7 318.2 L262.0 317.6 L263.4 316.9 L264.7 316.2 L266.1 315.6 L267.4 314.9 L268.8 314.3 L270.1 313.6 L271.5 313.0 L272.8 312.4 L274.2 311.7 L275.5 311.1 L276.9 310.5 L278.3 309.8 L279.6 309.2 L281.0 308.6 L282.4 308.0 L283.7 307.4 L285.1 306.8 L286.5 306.2 L287.9 305.6 L289.2 305.1 L290.6 304.5 L292.0 303.9 L293.4 303.3 L294.8 302.8 L296.2 302.2 L297.5 301.7 L298.9 301.1 L300.3 300.6 L301.7 300.1 L303.1 299.5 L304.5 299.0 L305.9 298.5 L307.3 298.0 L308.7 297.5 L310.2 296.9 L311.6 296.4 L313.0 295.9 L314.4 295.4 L315.8 294.9 L317.2 294.5 L318.6 294.0 L320.1 293.5 L321.5 293.0 L322.9 292.6 L324.3 292.1 L325.8 291.7 L327.2 291.2 L328.6 290.8 L330.0 290.3 L331.5 289.9 L332.9 289.5 L334.3 289.0 L335.8 288.6 L337.2 288.2 L338.6 287.8 L340.1 287.4 L341.5 287.0 L343.0 286.6 L344.4 286.2 L345.9 285.8 L347.3 285.4 L348.8 285.0 L350.2 284.6 L351.7 284.3 L353.1 283.9 L354.6 283.5 L356.0 283.2 L357.5 282.8 L358.9 282.5 L360.4 282.1 L361.8 281.8 L363.3 281.4 L364.7 281.1 L366.2 280.8 L367.7 280.5 L369.1 280.2 L370.6 279.8 L372.1 279.5 L373.5 279.2 L375.0 278.9 L376.4 278.6 L377.9 278.3 L379.4 278.0 L380.9 277.7 L382.3 277.4 L383.8 277.2 L385.3 276.9 L386.7 276.6 L388.2 276.3 L389.7 276.1 L391.2 275.8 L392.6 275.5 L394.1 275.3 L395.6 275.0 L397.0 274.8 L398.5 274.5 L400.0 274.3 L401.5 274.0 L403.0 273.8 L404.4 273.6 L405.9 273.3 L407.4 273.1 L408.9 272.9 L410.3 272.6 L411.8 272.4 L413.3 272.2 L414.8 272.0 L416.3 271.8 L417.7 271.6 L419.2 271.3 L420.7 271.1 L422.2 270.9 L423.7 270.7 L425.2 270.5 L426.6 270.3 L428.1 270.1 L429.6 269.9 L431.1 269.7 L432.6 269.5 L434.1 269.3 L435.5 269.1 L437.0 268.9 L438.5 268.7 L440.0 268.5 L441.5 268.4 L443.0 268.2 L444.4 268.0 L445.9 267.8 L447.4 267.6 L448.9 267.5 L450.4 267.3 L451.9 267.1 L453.4 266.9 L454.8 266.7 L456.3 266.6 L457.8 266.4 L459.3 266.2 L460.8 266.0 L462.3 265.9 L463.8 265.7 L465.2 265.5 L466.7 265.3 L468.2 265.1 L469.7 265.0 L471.2 264.8 L472.7 264.6 L474.2 264.4 L475.6 264.3 L477.1 264.1 L478.6 263.9 L480.1 263.7 L481.6 263.6 L483.1 263.4 L484.6 263.2 L486.0 263.0 L487.5 262.9 L489.0 262.7 L490.5 262.5 L492.0 262.3 L493.5 262.1 L495.0 261.9 L496.4 261.8 L497.9 261.6 L499.4 261.4 L500.9 261.2 L502.4 261.0 L503.9 260.8 L505.3 260.6 L506.8 260.4 L508.3 260.3 L509.8 260.1 L511.3 259.9 L512.8 259.7 L514.3 259.5 L515.7 259.3 L517.2 259.1 L518.7 259.0 L520.2 258.8 L521.7 258.6 L523.2 258.4 L524.6 258.2 L526.1 258.0 L527.6 257.8 L529.1 257.6 L530.6 257.5 L532.1 257.3 L533.6 257.1 L535.0 256.9 L536.5 256.7 L538.0 256.5 L539.5 256.4 L541.0 256.2 L542.5 256.0 L544.0 255.8 L545.4 255.7 L546.9 255.5 L548.4 255.3 L549.9 255.1 L551.4 255.0 L552.9 254.8 L554.4 254.6 L555.8 254.4 L557.3 254.3 L558.8 254.1 L560.3 253.9 L561.8 253.8 L563.3 253.6 L564.8 253.5 L566.3 253.3 L567.7 253.2 L569.2 253.0 L570.7 252.9 L572.2 252.7 L573.7 252.6 L575.2 252.4 L576.7 252.3 L578.2 252.1 L579.7 252.0 L581.1 251.9 L582.6 251.7 L584.1 251.6 L585.6 251.5 L587.1 251.3 L588.6 251.2" fill="none" stroke="#9932cc" stroke-width="2.5" stroke-linejoin="round"/>
<path d="M93.3 546.5L93.2 535L94.8 532.3L98 532L99.2 535.5L97.8 539.2L95.6 540L95.2 546.5Z" fill="#9932cc"/>

<!-- frame and ticks -->
<rect x="90.45" y="45" width="696.15" height="696.25" fill="none" stroke="#000" stroke-width="1.8"/>
<path d="M90.45 741.25 v-15.0 M129.12 741.25 v-7.6 M167.80 741.25 v-7.6 M206.47 741.25 v-7.6 M245.15 741.25 v-7.6 M283.82 741.25 v-15.0 M322.49 741.25 v-7.6 M361.17 741.25 v-7.6 M399.84 741.25 v-7.6 M438.52 741.25 v-7.6 M477.19 741.25 v-15.0 M515.86 741.25 v-7.6 M554.54 741.25 v-7.6 M593.21 741.25 v-7.6 M631.89 741.25 v-7.6 M670.56 741.25 v-15.0 M709.23 741.25 v-7.6 M747.91 741.25 v-7.6 M786.58 741.25 v-7.6 M90.45 45.00 v15.0 M130.72 45.00 v7.6 M170.99 45.00 v7.6 M211.26 45.00 v7.6 M251.53 45.00 v7.6 M291.80 45.00 v15.0 M332.07 45.00 v7.6 M372.34 45.00 v7.6 M412.61 45.00 v7.6 M452.88 45.00 v7.6 M493.15 45.00 v15.0 M533.42 45.00 v7.6 M573.69 45.00 v7.6 M613.96 45.00 v7.6 M654.23 45.00 v7.6 M694.50 45.00 v15.0 M734.77 45.00 v7.6 M775.04 45.00 v7.6 M90.45 741.25 h15.0 M786.60 741.25 h-15.0 M90.45 704.61 h7.6 M786.60 704.61 h-7.6 M90.45 667.96 h7.6 M786.60 667.96 h-7.6 M90.45 631.32 h7.6 M786.60 631.32 h-7.6 M90.45 594.67 h15.0 M786.60 594.67 h-15.0 M90.45 558.02 h7.6 M786.60 558.02 h-7.6 M90.45 521.38 h7.6 M786.60 521.38 h-7.6 M90.45 484.73 h7.6 M786.60 484.73 h-7.6 M90.45 448.09 h15.0 M786.60 448.09 h-15.0 M90.45 411.44 h7.6 M786.60 411.44 h-7.6 M90.45 374.80 h7.6 M786.60 374.80 h-7.6 M90.45 338.15 h7.6 M786.60 338.15 h-7.6 M90.45 301.51 h15.0 M786.60 301.51 h-15.0 M90.45 264.86 h7.6 M786.60 264.86 h-7.6 M90.45 228.22 h7.6 M786.60 228.22 h-7.6 M90.45 191.57 h7.6 M786.60 191.57 h-7.6 M90.45 154.93 h15.0 M786.60 154.93 h-15.0 M90.45 118.28 h7.6 M786.60 118.28 h-7.6 M90.45 81.64 h7.6 M786.60 81.64 h-7.6" stroke="#000" stroke-width="1.5" fill="none"/>

<!-- RK01 dotted -->
<g fill="none" stroke="#ff8c00" stroke-width="2.6" stroke-dasharray="3.0 2.8">
<path d="M90.8 741.2 L90.8 739.1 L90.8 737.0 L90.8 734.9 L90.8 732.8 L90.8 730.7 L90.8 728.7 L90.8 726.6 L90.8 724.5 L90.8 722.4 L90.8 720.3 L90.8 718.2 L90.8 716.1 L90.8 714.0 L90.8 711.9 L90.8 709.8 L90.8 707.7 L90.8 705.6 L90.9 703.6 L90.9 701.5 L90.9 699.4 L90.9 697.3 L90.9 695.2 L90.9 693.1 L90.9 691.0 L90.9 688.9 L90.9 686.8 L90.9 684.7 L90.9 682.6 L90.9 680.6 L90.9 678.5 L90.9 676.4 L90.9 674.3 L90.9 672.2 L90.9 670.1 L90.9 668.0 L91.0 665.9 L91.0 663.8 L91.0 661.7 L91.0 659.6 L91.0 657.6 L91.0 655.5 L91.0 653.4 L91.0 651.3 L91.0 649.2 L91.0 647.1 L91.0 645.0 L91.0 642.9 L91.0 640.8 L91.0 638.7 L91.0 636.6 L91.1 634.5 L91.1 632.5 L91.1 630.4 L91.1 628.3 L91.1 626.2 L91.1 624.1 L91.1 622.0 L91.1 619.9 L91.1 617.8 L91.1 615.7 L91.1 613.6 L91.1 611.5 L91.2 609.5 L91.2 607.4 L91.2 605.3 L91.2 603.2 L91.2 601.1 L91.2 599.0 L91.2 596.9 L91.2 594.8 L91.2 592.7 L91.3 590.6 L91.3 588.5 L91.3 586.4 L91.3 584.4 L91.3 582.3 L91.3 580.2 L91.3 578.1 L91.4 576.0 L91.4 573.9 L91.4 571.8 L91.4 569.7 L91.4 567.6 L91.4 565.5 L91.5 563.4 L91.5 561.4 L91.5 559.3 L91.5 557.2 L91.6 555.1 L91.6 553.0 L91.6 550.9 L91.6 548.8 L91.7 546.7 L91.7 544.6 L91.8 542.5 L91.8 540.4 L91.8 538.4 L91.9 536.3 L91.9 534.2 L92.0 532.1 L92.0 530.0 L92.1 527.9 L92.1 525.8 L92.2 523.7 L92.3 521.6 L92.3 519.5 L92.4 517.5 L92.4 515.4 L92.5 513.3 L92.6 511.2 L92.7 509.1 L92.7 507.0 L92.8 504.9 L92.9 502.8 L93.0 500.7 L93.1 498.6 L93.2 496.6 L93.3 494.5 L93.4 492.4 L93.5 490.3 L93.6 488.2 L93.7 486.1 L93.8 484.0 L93.9 481.9 L94.0 479.8 L94.2 477.8 L94.3 475.7 L94.4 473.6 L94.5 471.5 L94.5 469.4 L94.6 467.3 L94.7 465.2 L94.8 463.1 L94.9 461.0 L95.1 459.0 L95.2 456.9 L95.4 454.8 L95.6 452.7 L95.8 450.6 L96.0 448.5 L96.3 446.5 L96.5 444.4 L96.7 442.3 L96.9 440.2 L97.1 438.1 L97.4 436.1 L97.8 434.0 L98.2 431.9 L98.8 430.0 L99.7 428.0 L100.8 426.3 L102.2 424.7 L103.7 423.2 L105.2 421.8 L106.8 420.4 L108.4 419.1 L110.0 417.7 L111.5 416.3 L113.0 414.9 L114.5 413.4 L115.9 411.9 L117.4 410.4 L118.8 408.9 L120.3 407.4 L121.8 405.9 L123.2 404.4 L124.7 402.9 L126.2 401.4 L127.7 400.0 L129.3 398.6 L130.9 397.3 L132.5 396.0 L134.2 394.8 L135.9 393.5 L137.6 392.3 L139.3 391.0 L141.0 389.8 L142.6 388.5 L144.3 387.3 L146.0 386.0 L147.6 384.7 L149.3 383.5 L151.0 382.2 L152.6 381.0 L154.3 379.7 L156.0 378.5 L157.7 377.3 L159.4 376.0 L161.1 374.8 L162.8 373.6 L164.5 372.3 L166.2 371.1 L167.9 369.9 L169.6 368.8 L171.4 367.6 L173.1 366.4 L174.9 365.3 L176.6 364.2 L178.4 363.1 L180.2 362.0 L181.9 360.9 L183.7 359.8 L185.5 358.7 L187.3 357.6 L189.1 356.6 L190.9 355.5 L192.8 354.5 L194.6 353.4 L196.4 352.4 L198.2 351.4 L200.0 350.3 L201.8 349.2 L203.6 348.1 L205.4 347.1 L207.1 346.0 L208.9 344.9 L210.7 343.7 L212.5 342.6 L214.3 341.5 L216.0 340.4 L217.8 339.4 L219.6 338.3 L221.4 337.2 L223.2 336.1 L225.0 335.1 L226.8 334.0 L228.6 333.0 L230.4 332.0 L232.3 330.9 L234.1 329.9 L235.9 328.9 L237.7 327.8 L239.6 326.8 L241.4 325.8 L243.3 324.9 L245.1 323.9 L247.0 322.9 L248.8 322.0 L250.7 321.1 L252.6 320.2 L254.5 319.3 L256.4 318.4 L258.3 317.5 L260.2 316.6 L262.1 315.8 L264.0 314.9 L265.9 314.1 L267.8 313.3 L269.8 312.4 L271.7 311.6 L273.6 310.8 L275.6 310.0 L277.5 309.3 L279.4 308.5 L281.4 307.7 L283.3 307.0 L285.3 306.2 L287.3 305.5 L289.2 304.8 L291.2 304.1 L293.2 303.4 L295.1 302.7 L297.1 302.0 L299.1 301.3 L301.1 300.7 L303.1 300.0 L305.0 299.4 L307.0 298.7 L309.0 298.1 L311.0 297.5 L313.0 296.8 L315.0 296.2 L317.0 295.6 L319.0 295.0 L321.1 294.4 L323.1 293.9 L325.1 293.3 L327.1 292.7 L329.1 292.2 L331.1 291.6 L333.1 291.1 L335.2 290.6 L337.2 290.1 L339.2 289.6 L341.3 289.1 L343.3 288.6 L345.3 288.1 L347.4 287.6 L349.4 287.1 L351.4 286.7 L353.5 286.2 L355.5 285.8 L357.6 285.3 L359.6 284.9 L361.7 284.4 L363.7 284.0 L365.8 283.6 L367.8 283.2 L369.9 282.8 L371.9 282.4 L374.0 282.0 L376.0 281.6 L378.1 281.3 L380.1 280.9 L382.2 280.5 L384.3 280.2 L386.3 279.8 L388.4 279.5 L390.5 279.1 L392.5 278.8 L394.6 278.5 L396.7 278.2 L398.7 277.9 L400.8 277.5 L402.9 277.2 L404.9 277.0 L407.0 276.7 L409.1 276.4 L411.1 276.1 L413.2 275.8 L415.3 275.5 L417.4 275.3 L419.4 275.0 L421.5 274.7 L423.6 274.5 L425.7 274.2 L427.7 274.0 L429.8 273.7 L431.9 273.5 L434.0 273.2 L436.0 273.0 L438.1 272.8 L440.2 272.5 L442.3 272.3 L444.4 272.1 L446.4 271.8 L448.5 271.6 L450.6 271.4 L452.7 271.2 L454.8 271.0 L456.8 270.8 L458.9 270.6 L461.0 270.4 L463.1 270.2 L465.2 270.0 L467.3 269.8 L469.3 269.6 L471.4 269.5 L473.5 269.3 L475.6 269.1 L477.7 268.9 L479.8 268.7 L481.8 268.6 L483.9 268.4 L486.0 268.3 L488.1 268.1 L490.2 267.9 L492.3 267.8 L494.3 267.6 L496.4 267.5 L498.5 267.3 L500.6 267.2 L502.7 267.0 L504.8 266.9 L506.9 266.8 L509.0 266.6 L511.0 266.5 L513.1 266.4 L515.2 266.2 L517.3 266.1 L519.4 266.0 L521.5 265.9 L523.6 265.8 L525.7 265.6 L527.7 265.5 L529.8 265.4 L531.9 265.3 L534.0 265.2 L536.1 265.1 L538.2 265.0 L540.3 264.9 L542.4 264.8 L544.5 264.7 L546.5 264.6 L548.6 264.6 L550.7 264.5 L552.8 264.4 L554.9 264.3 L557.0 264.2 L559.1 264.1 L561.2 264.0 L563.3 264.0 L565.3 263.9 L567.4 263.8 L569.5 263.7 L571.6 263.7 L573.7 263.6 L575.8 263.5 L577.9 263.5 L580.0 263.4 L582.1 263.4 L584.2 263.3 L586.3 263.2 L588.3 263.2 L590.4 263.1 L592.5 263.1 L594.6 263.1 L596.7 263.0 L598.8 263.0 L600.9 262.9 L603.0 262.9 L605.1 262.8 L607.2 262.8 L609.2 262.8 L611.3 262.7 L613.4 262.7 L615.5 262.6 L617.6 262.6 L619.7 262.6 L621.8 262.5 L623.9 262.5 L626.0 262.5 L628.1 262.5 L630.2 262.4 L632.3 262.4 L634.3 262.4 L636.4 262.4 L638.5 262.4 L640.6 262.3 L642.7 262.3 L644.8 262.3 L646.9 262.3 L649.0 262.3 L651.1 262.3 L653.2 262.3 L655.3 262.3 L657.3 262.3 L659.4 262.3 L661.5 262.2 L663.6 262.2 L665.7 262.2 L667.8 262.2 L669.9 262.2 L672.0 262.2 L674.1 262.2 L676.2 262.2 L678.3 262.2 L680.3 262.2 L682.4 262.2 L684.5 262.2 L686.6 262.2 L688.7 262.2 L690.8 262.2 L692.9 262.2 L695.0 262.2 L697.1 262.2 L699.2 262.2 L701.3 262.2 L703.4 262.2 L705.4 262.2 L707.5 262.2 L709.6 262.2 L711.7 262.2 L713.8 262.2 L715.9 262.3 L718.0 262.3 L720.1 262.3 L722.2 262.3 L724.3 262.3 L726.4 262.3 L728.4 262.3 L730.5 262.3 L732.6 262.3 L734.7 262.3 L736.8 262.3 L738.9 262.4 L741.0 262.4 L743.1 262.4 L745.2 262.4 L747.3 262.4 L749.4 262.4 L751.4 262.4 L753.5 262.4 L755.6 262.4 L757.7 262.4 L759.8 262.4 L761.9 262.4 L764.0 262.5 L766.1 262.5 L768.2 262.5 L770.3 262.5 L772.4 262.5 L774.5 262.5 L776.5 262.5 L778.6 262.5 L780.7 262.5 L782.8 262.5 L784.9 262.5 L787.0 262.6"/><path d="M90.8 741.2 L90.8 739.1 L90.8 737.1 L90.8 735.0 L90.8 733.0 L90.8 730.9 L90.8 728.9 L90.8 726.8 L90.8 724.7 L90.8 722.7 L90.8 720.6 L90.8 718.6 L90.8 716.5 L90.8 714.5 L90.8 712.4 L90.8 710.3 L90.8 708.3 L90.8 706.2 L90.9 704.2 L90.9 702.1 L90.9 700.0 L90.9 698.0 L90.9 695.9 L90.9 693.9 L90.9 691.8 L90.9 689.8 L90.9 687.7 L90.9 685.6 L90.9 683.6 L90.9 681.5 L90.9 679.5 L90.9 677.4 L90.9 675.4 L90.9 673.3 L90.9 671.2 L90.9 669.2 L90.9 667.1 L91.0 665.1 L91.0 663.0 L91.0 661.0 L91.0 658.9 L91.0 656.8 L91.0 654.8 L91.0 652.7 L91.0 650.7 L91.0 648.6 L91.0 646.5 L91.0 644.5 L91.0 642.4 L91.0 640.4 L91.0 638.3 L91.0 636.3 L91.1 634.2 L91.1 632.1 L91.1 630.1 L91.1 628.0 L91.1 626.0 L91.1 623.9 L91.1 621.9 L91.1 619.8 L91.1 617.7 L91.1 615.7 L91.1 613.6 L91.1 611.6 L91.2 609.5 L91.2 607.5 L91.2 605.4 L91.2 603.3 L91.2 601.3 L91.2 599.2 L91.2 597.2 L91.2 595.1 L91.2 593.1 L91.3 591.0 L91.3 588.9 L91.3 586.9 L91.3 584.8 L91.3 582.8 L91.3 580.7 L91.3 578.6 L91.4 576.6 L91.4 574.5 L91.4 572.5 L91.4 570.4 L91.4 568.4 L91.4 566.3 L91.5 564.2 L91.5 562.2 L91.5 560.1 L91.5 558.1 L91.5 556.0 L91.6 554.0 L91.6 551.9 L91.6 549.8 L91.7 547.8 L91.7 545.7 L91.7 543.7 L91.8 541.6 L91.8 539.6 L91.9 537.5 L91.9 535.4 L92.0 533.4 L92.0 531.3 L92.1 529.3 L92.1 527.2 L92.2 525.2 L92.2 523.1 L92.3 521.0 L92.3 519.0 L92.4 516.9 L92.5 514.9 L92.5 512.8 L92.6 510.8 L92.7 508.7 L92.8 506.6 L92.8 504.6 L92.9 502.5 L93.0 500.5 L93.1 498.4 L93.2 496.4 L93.3 494.3 L93.4 492.3 L93.5 490.2 L93.6 488.1 L93.7 486.1 L93.8 484.0 L93.9 482.0 L94.0 479.9 L94.2 477.9 L94.3 475.8 L94.4 473.8 L94.5 471.7 L94.5 469.7 L94.6 467.6 L94.7 465.5 L94.8 463.5 L94.9 461.4 L95.0 459.4 L95.2 457.3 L95.4 455.3 L95.6 453.2 L95.8 451.2 L96.0 449.1 L96.2 447.1 L96.4 445.0 L96.6 443.0 L96.8 440.9 L97.0 438.9 L97.3 436.9 L97.6 434.8 L98.0 432.8 L98.5 430.8 L99.2 428.7 L100.2 427.0 L102.1 426.4 L104.1 425.7 L105.8 424.7 L107.4 423.4 L108.9 422.0 L110.4 420.5 L111.9 419.0 L113.5 417.6 L114.9 416.2 L116.4 414.7 L117.8 413.2 L119.2 411.8 L120.7 410.3 L122.2 408.9 L123.6 407.4 L125.1 406.0 L126.6 404.6 L128.1 403.2 L129.7 401.8 L131.3 400.5 L132.9 399.2 L134.5 398.0 L136.1 396.7 L137.7 395.4 L139.3 394.1 L140.9 392.8 L142.5 391.6 L144.1 390.3 L145.8 389.0 L147.4 387.7 L149.0 386.4 L150.6 385.1 L152.2 383.9 L153.8 382.6 L155.5 381.4 L157.1 380.2 L158.8 378.9 L160.4 377.7 L162.1 376.5 L163.8 375.2 L165.4 374.1 L167.1 372.9 L168.8 371.7 L170.6 370.6 L172.3 369.6 L174.1 368.5 L175.8 367.4 L177.6 366.4 L179.4 365.4 L181.2 364.4 L183.1 363.5 L184.9 362.5 L186.7 361.6 L188.6 360.8 L190.5 359.9 L192.4 359.1 L194.2 358.2 L196.1 357.4 L198.1 356.7 L200.0 355.9 L201.9 355.2 L203.8 354.5 L205.7 353.8 L207.7 353.1 L209.6 352.4 L211.6 351.7 L213.5 351.1 L215.5 350.5 L217.5 349.9 L219.5 349.3 L221.4 348.7 L223.4 348.2 L225.4 347.6 L227.4 347.1 L229.4 346.6 L231.4 346.1 L233.4 345.7 L235.4 345.2 L237.4 344.8 L239.4 344.3 L241.4 343.9 L243.5 343.5 L245.5 343.1 L247.5 342.8 L249.5 342.4 L251.6 342.1 L253.6 341.8 L255.6 341.5 L257.7 341.2 L259.7 340.9 L261.7 340.6 L263.8 340.3 L265.8 340.0 L267.9 339.8 L269.9 339.6 L272.0 339.3 L274.0 339.1 L276.0 338.9 L278.1 338.7 L280.1 338.5 L282.2 338.3 L284.2 338.1 L286.3 337.9 L288.3 337.8 L290.4 337.6 L292.4 337.4 L294.5 337.3 L296.5 337.1 L298.6 337.0 L300.7 336.9 L302.7 336.7 L304.8 336.6 L306.8 336.5 L308.9 336.4 L310.9 336.4 L313.0 336.3 L315.0 336.2 L317.1 336.1 L319.2 336.1 L321.2 336.0 L323.3 335.9 L325.3 335.8 L327.4 335.8 L329.4 335.7 L331.5 335.7 L333.6 335.6 L335.6 335.6 L337.7 335.5 L339.7 335.5 L341.8 335.5 L343.8 335.5 L345.9 335.5 L348.0 335.5 L350.0 335.5 L352.1 335.5 L354.1 335.5 L356.2 335.5 L358.2 335.5 L360.3 335.5 L362.4 335.5 L364.4 335.5 L366.5 335.5 L368.5 335.5 L370.6 335.5 L372.6 335.5 L374.7 335.5 L376.8 335.5 L378.8 335.5 L380.9 335.6 L382.9 335.6 L385.0 335.6 L387.1 335.6 L389.1 335.7 L391.2 335.7 L393.2 335.7 L395.3 335.8 L397.3 335.8 L399.4 335.8 L401.5 335.9 L403.5 335.9 L405.6 336.0 L407.6 336.0 L409.7 336.0 L411.7 336.1 L413.8 336.1 L415.9 336.2 L417.9 336.2 L420.0 336.3 L422.0 336.3 L424.1 336.4 L426.1 336.4 L428.2 336.5 L430.3 336.6 L432.3 336.6 L434.4 336.7 L436.4 336.7 L438.5 336.8 L440.5 336.9 L442.6 336.9 L444.6 337.0 L446.7 337.1 L448.8 337.1 L450.8 337.2 L452.9 337.3 L454.9 337.4 L457.0 337.4 L459.0 337.5 L461.1 337.6 L463.2 337.7 L465.2 337.8 L467.3 337.8 L469.3 337.9 L471.4 338.0 L473.4 338.1 L475.5 338.2 L477.5 338.3 L479.6 338.4 L481.7 338.4 L483.7 338.5 L485.8 338.6 L487.8 338.7 L489.9 338.8 L491.9 338.9 L494.0 339.0 L496.0 339.1 L498.1 339.2 L500.2 339.3 L502.2 339.4 L504.3 339.5 L506.3 339.6 L508.4 339.7 L510.4 339.8 L512.5 339.9 L514.5 340.0 L516.6 340.1 L518.7 340.2 L520.7 340.3 L522.8 340.5 L524.8 340.6 L526.9 340.7 L528.9 340.8 L531.0 340.9 L533.0 341.0 L535.1 341.1 L537.1 341.3 L539.2 341.4 L541.3 341.5 L543.3 341.6 L545.4 341.7 L547.4 341.8 L549.5 342.0 L551.5 342.1 L553.6 342.2 L555.6 342.3 L557.7 342.5 L559.7 342.6 L561.8 342.7 L563.8 342.8 L565.9 343.0 L568.0 343.1 L570.0 343.2 L572.1 343.4 L574.1 343.5 L576.2 343.6 L578.2 343.8 L580.3 343.9 L582.3 344.0 L584.4 344.2 L586.4 344.3 L588.5 344.4 L590.5 344.6 L592.6 344.7 L594.6 344.8 L596.7 345.0 L598.7 345.1 L600.8 345.2 L602.9 345.4 L604.9 345.5 L607.0 345.7 L609.0 345.8 L611.1 346.0 L613.1 346.1 L615.2 346.2 L617.2 346.4 L619.3 346.5 L621.3 346.7 L623.4 346.8 L625.4 347.0 L627.5 347.1 L629.5 347.2 L631.6 347.4 L633.6 347.5 L635.7 347.7 L637.8 347.8 L639.8 348.0 L641.9 348.1 L643.9 348.3 L646.0 348.4 L648.0 348.6 L650.1 348.7 L652.1 348.9 L654.2 349.0 L656.2 349.2 L658.3 349.3 L660.3 349.5 L662.4 349.6 L664.4 349.8 L666.5 349.9 L668.5 350.1 L670.6 350.2 L672.6 350.4 L674.7 350.5 L676.7 350.7 L678.8 350.8 L680.8 351.0 L682.9 351.1 L684.9 351.3 L687.0 351.4 L689.1 351.6 L691.1 351.7 L693.2 351.9 L695.2 352.0 L697.3 352.2 L699.3 352.3 L701.4 352.5 L703.4 352.7 L705.5 352.8 L707.5 353.0 L709.6 353.1 L711.6 353.3 L713.7 353.4 L715.7 353.6 L717.8 353.7 L719.8 353.9 L721.9 354.0 L723.9 354.2 L726.0 354.3 L728.0 354.5 L730.1 354.6 L732.1 354.8 L734.2 355.0 L736.2 355.1 L738.3 355.3 L740.4 355.4 L742.4 355.6 L744.5 355.7 L746.5 355.9 L748.6 356.0 L750.6 356.2 L752.7 356.3 L754.7 356.5 L756.8 356.6 L758.8 356.8 L760.9 356.9 L762.9 357.1 L765.0 357.2 L767.0 357.4 L769.1 357.5 L771.1 357.7 L773.2 357.8 L775.2 358.0 L777.3 358.1 L779.3 358.3 L781.4 358.4 L783.4 358.6 L785.5 358.7" stroke-dashoffset="2"/><path d="M90.8 741.2 L90.8 739.1 L90.8 737.1 L90.8 735.0 L90.8 732.9 L90.8 730.9 L90.8 728.8 L90.8 726.7 L90.8 724.7 L90.8 722.6 L90.8 720.6 L90.8 718.5 L90.8 716.4 L90.8 714.4 L90.8 712.3 L90.8 710.2 L90.8 708.2 L90.8 706.1 L90.9 704.0 L90.9 702.0 L90.9 699.9 L90.9 697.8 L90.9 695.8 L90.9 693.7 L90.9 691.7 L90.9 689.6 L90.9 687.5 L90.9 685.5 L90.9 683.4 L90.9 681.3 L90.9 679.3 L90.9 677.2 L90.9 675.1 L90.9 673.1 L90.9 671.0 L90.9 668.9 L90.9 666.9 L91.0 664.8 L91.0 662.8 L91.0 660.7 L91.0 658.6 L91.0 656.6 L91.0 654.5 L91.0 652.4 L91.0 650.4 L91.0 648.3 L91.0 646.2 L91.0 644.2 L91.0 642.1 L91.0 640.0 L91.0 638.0 L91.0 635.9 L91.1 633.8 L91.1 631.8 L91.1 629.7 L91.1 627.7 L91.1 625.6 L91.1 623.5 L91.1 621.5 L91.1 619.4 L91.1 617.3 L91.1 615.3 L91.1 613.2 L91.1 611.1 L91.2 609.1 L91.2 607.0 L91.2 604.9 L91.2 602.9 L91.2 600.8 L91.2 598.8 L91.2 596.7 L91.2 594.6 L91.3 592.6 L91.3 590.5 L91.3 588.4 L91.3 586.4 L91.3 584.3 L91.3 582.2 L91.3 580.2 L91.3 578.1 L91.4 576.0 L91.4 574.0 L91.4 571.9 L91.4 569.9 L91.4 567.8 L91.4 565.7 L91.5 563.7 L91.5 561.6 L91.5 559.5 L91.5 557.5 L91.6 555.4 L91.6 553.3 L91.6 551.3 L91.6 549.2 L91.7 547.1 L91.7 545.1 L91.8 543.0 L91.8 541.0 L91.8 538.9 L91.9 536.8 L91.9 534.8 L92.0 532.7 L92.0 530.6 L92.1 528.6 L92.1 526.5 L92.2 524.4 L92.2 522.4 L92.3 520.3 L92.3 518.3 L92.4 516.2 L92.5 514.1 L92.6 512.1 L92.6 510.0 L92.7 507.9 L92.8 505.9 L92.9 503.8 L93.0 501.7 L93.1 499.7 L93.1 497.6 L93.2 495.6 L93.3 493.5 L93.4 491.4 L93.5 489.4 L93.6 487.3 L93.7 485.3 L93.9 483.2 L94.0 481.1 L94.1 479.1 L94.2 477.0 L94.3 474.9 L94.4 472.9 L94.5 470.8 L94.6 468.8 L94.7 466.7 L94.8 464.6 L94.9 462.6 L95.0 460.5 L95.1 458.4 L95.3 456.4 L95.5 454.3 L95.7 452.3 L95.9 450.2 L96.1 448.2 L96.3 446.1 L96.5 444.1 L96.7 442.0 L96.9 440.0 L97.2 437.9 L97.5 435.9 L97.8 433.8 L98.3 431.8 L98.8 429.7 L99.7 427.5 L101.1 427.2 L103.1 428.1 L104.9 429.1 L106.7 430.2 L108.5 431.1 L110.4 432.0 L112.4 432.8 L114.3 433.4 L116.3 433.8 L118.3 434.2 L120.4 434.5 L122.4 434.8 L124.5 434.9 L126.6 435.0 L128.6 434.9 L130.6 434.5 L132.7 434.1 L134.7 433.5 L136.7 432.9 L138.7 432.4 L140.7 431.9 L142.6 431.3 L144.6 430.6 L146.6 430.0 L148.5 429.3 L150.5 428.6 L152.4 427.8 L154.3 427.1 L156.2 426.2 L158.0 425.3 L159.9 424.4 L161.7 423.5 L163.6 422.5 L165.4 421.6 L167.3 420.8 L169.2 419.9 L171.1 419.1 L173.0 418.2 L174.9 417.4 L176.7 416.5 L178.6 415.6 L180.4 414.7 L182.3 413.7 L184.0 412.7 L185.8 411.7 L187.6 410.6 L189.3 409.5 L191.1 408.4 L192.8 407.3 L194.6 406.2 L196.3 405.1 L198.1 404.0 L199.9 403.0 L201.7 401.9 L203.4 400.9 L205.2 399.8 L207.0 398.8 L208.8 397.8 L210.6 396.7 L212.4 395.7 L214.2 394.7 L216.0 393.7 L217.8 392.7 L219.6 391.7 L221.4 390.7 L223.2 389.7 L225.0 388.7 L226.8 387.7 L228.7 386.8 L230.5 385.8 L232.3 384.9 L234.2 383.9 L236.0 383.0 L237.9 382.1 L239.7 381.2 L241.6 380.2 L243.4 379.3 L245.3 378.4 L247.1 377.5 L249.0 376.7 L250.9 375.8 L252.7 374.9 L254.6 374.1 L256.5 373.2 L258.4 372.4 L260.3 371.5 L262.2 370.7 L264.1 369.9 L265.9 369.1 L267.8 368.2 L269.7 367.4 L271.6 366.6 L273.6 365.8 L275.5 365.0 L277.4 364.3 L279.3 363.5 L281.2 362.7 L283.1 361.9 L285.0 361.2 L286.9 360.4 L288.9 359.7 L290.8 358.9 L292.7 358.2 L294.6 357.4 L296.6 356.7 L298.5 356.0 L300.4 355.2 L302.4 354.5 L304.3 353.8 L306.2 353.1 L308.2 352.4 L310.1 351.7 L312.1 351.0 L314.0 350.3 L316.0 349.6 L317.9 348.9 L319.9 348.2 L321.8 347.6 L323.8 346.9 L325.7 346.2 L327.7 345.5 L329.6 344.9 L331.6 344.2 L333.5 343.6 L335.5 342.9 L337.5 342.3 L339.4 341.6 L341.4 341.0 L343.3 340.3 L345.3 339.7 L347.3 339.1 L349.2 338.4 L351.2 337.8 L353.2 337.2 L355.1 336.6 L357.1 336.0 L359.1 335.3 L361.1 334.7 L363.0 334.1 L365.0 333.5 L367.0 332.9 L368.9 332.3 L370.9 331.7 L372.9 331.1 L374.9 330.5 L376.8 329.9 L378.8 329.3 L380.8 328.7 L382.8 328.1 L384.8 327.5 L386.7 326.9 L388.7 326.3 L390.7 325.8 L392.7 325.2 L394.7 324.6 L396.6 324.1 L398.6 323.5 L400.6 322.9 L402.6 322.4 L404.6 321.8 L406.6 321.3 L408.6 320.7 L410.6 320.1 L412.6 319.6 L414.5 319.0 L416.5 318.5 L418.5 317.9 L420.5 317.4 L422.5 316.9 L424.5 316.3 L426.5 315.8 L428.5 315.3 L430.5 314.8 L432.5 314.3 L434.5 313.8 L436.5 313.3 L438.5 312.8 L440.5 312.3 L442.5 311.8 L444.5 311.3 L446.5 310.8 L448.5 310.4 L450.5 309.9 L452.6 309.4 L454.6 308.9 L456.6 308.5 L458.6 308.0 L460.6 307.6 L462.6 307.1 L464.6 306.7 L466.7 306.2 L468.7 305.8 L470.7 305.3 L472.7 304.9 L474.7 304.5 L476.8 304.1 L478.8 303.7 L480.8 303.3 L482.8 302.9 L484.9 302.5 L486.9 302.1 L488.9 301.7 L491.0 301.4 L493.0 301.0 L495.0 300.6 L497.0 300.3 L499.1 299.9 L501.1 299.6 L503.2 299.3 L505.2 298.9 L507.2 298.6 L509.3 298.3 L511.3 298.0 L513.4 297.7 L515.4 297.4 L517.4 297.0 L519.5 296.7 L521.5 296.4 L523.6 296.2 L525.6 295.9 L527.7 295.6 L529.7 295.3 L531.8 295.0 L533.8 294.7 L535.8 294.4 L537.9 294.2 L539.9 293.9 L542.0 293.6 L544.0 293.4 L546.1 293.1 L548.1 292.8 L550.2 292.6 L552.2 292.3 L554.3 292.1 L556.3 291.8 L558.4 291.6 L560.4 291.4 L562.5 291.1 L564.5 290.9 L566.6 290.7 L568.6 290.4 L570.7 290.2 L572.7 290.0 L574.8 289.7 L576.8 289.5 L578.9 289.3 L580.9 289.1 L583.0 288.8 L585.0 288.6 L587.1 288.4 L589.1 288.2 L591.2 287.9 L593.3 287.7 L595.3 287.5 L597.4 287.2 L599.4 287.0 L601.5 286.8 L603.5 286.5 L605.6 286.3 L607.6 286.1 L609.7 285.8 L611.7 285.6 L613.8 285.4 L615.8 285.1 L617.9 284.9 L619.9 284.7 L622.0 284.4 L624.0 284.2 L626.1 284.0 L628.1 283.8 L630.2 283.5 L632.2 283.3 L634.3 283.1 L636.3 282.9 L638.4 282.6 L640.4 282.4 L642.5 282.2 L644.5 282.0 L646.6 281.7 L648.6 281.5 L650.7 281.3 L652.8 281.1 L654.8 280.8 L656.9 280.6 L658.9 280.4 L661.0 280.2 L663.0 280.0 L665.1 279.7 L667.1 279.5 L669.2 279.3 L671.2 279.1 L673.3 278.9 L675.3 278.7 L677.4 278.4 L679.4 278.2 L681.5 278.0 L683.5 277.8 L685.6 277.6 L687.7 277.4 L689.7 277.2 L691.8 277.0 L693.8 276.9 L695.9 276.7 L697.9 276.5 L700.0 276.3 L702.0 276.1 L704.1 275.9 L706.2 275.7 L708.2 275.5 L710.3 275.3 L712.3 275.2 L714.4 275.0 L716.4 274.8 L718.5 274.6 L720.6 274.4 L722.6 274.3 L724.7 274.1 L726.7 273.9 L728.8 273.8 L730.8 273.6 L732.9 273.5 L735.0 273.3 L737.0 273.2 L739.1 273.0 L741.1 272.9 L743.2 272.8 L745.3 272.6 L747.3 272.5 L749.4 272.4 L751.4 272.3 L753.5 272.2 L755.6 272.0 L757.6 271.9 L759.7 271.8 L761.7 271.7 L763.8 271.6 L765.9 271.5 L767.9 271.4 L770.0 271.3 L772.1 271.2 L774.1 271.1 L776.2 271.0 L778.2 270.9 L780.3 270.8 L782.4 270.7 L784.4 270.7 L786.5 270.6" stroke-dashoffset="4"/>
</g>

<!-- M99 long-dashed -->
<path d="M90.6 741.2 L90.6 739.0 L90.6 736.9 L90.6 734.7 L90.6 732.5 L90.6 730.3 L90.6 728.2 L90.6 726.0 L90.6 723.8 L90.6 721.7 L90.6 719.5 L90.7 717.3 L90.7 715.1 L90.7 713.0 L90.7 710.8 L90.7 708.6 L90.7 706.5 L90.7 704.3 L90.7 702.1 L90.7 699.9 L90.7 697.8 L90.7 695.6 L90.7 693.4 L90.7 691.3 L90.7 689.1 L90.7 686.9 L90.7 684.7 L90.7 682.6 L90.7 680.4 L90.7 678.2 L90.7 676.1 L90.7 673.9 L90.8 671.7 L90.8 669.5 L90.8 667.4 L90.8 665.2 L90.8 663.0 L90.8 660.9 L90.8 658.7 L90.8 656.5 L90.8 654.3 L90.8 652.2 L90.8 650.0 L90.8 647.8 L90.8 645.7 L90.8 643.5 L90.8 641.3 L90.8 639.1 L90.8 637.0 L90.8 634.8 L90.8 632.6 L90.8 630.5 L90.8 628.3 L90.8 626.1 L90.8 623.9 L90.9 621.8 L90.9 619.6 L90.9 617.4 L90.9 615.3 L90.9 613.1 L90.9 610.9 L90.9 608.8 L90.9 606.6 L90.9 604.4 L90.9 602.2 L90.9 600.1 L90.9 597.9 L90.9 595.7 L90.9 593.6 L90.9 591.4 L90.9 589.2 L90.9 587.0 L90.9 584.9 L90.9 582.7 L90.9 580.5 L90.9 578.4 L90.9 576.2 L90.9 574.0 L91.0 571.8 L91.0 569.7 L91.0 567.5 L91.0 565.3 L91.0 563.2 L91.0 561.0 L91.0 558.8 L91.0 556.6 L91.0 554.5 L91.1 552.3 L91.1 550.1 L91.1 548.0 L91.1 545.8 L91.2 543.6 L91.2 541.4 L91.2 539.3 L91.3 537.1 L91.3 534.9 L91.3 532.8 L91.4 530.6 L91.4 528.4 L91.5 526.2 L91.5 524.1 L91.6 521.9 L91.6 519.7 L91.7 517.6 L91.7 515.4 L91.8 513.2 L91.8 511.1 L91.9 508.9 L91.9 506.7 L92.0 504.5 L92.1 502.4 L92.2 500.2 L92.2 498.0 L92.3 495.9 L92.4 493.7 L92.4 491.5 L92.5 489.3 L92.6 487.2 L92.7 485.0 L92.8 482.8 L92.8 480.7 L92.9 478.5 L93.0 476.3 L93.1 474.2 L93.2 472.0 L93.3 469.8 L93.4 467.7 L93.5 465.5 L93.6 463.3 L93.6 461.1 L93.7 459.0 L93.8 456.8 L93.9 454.6 L94.0 452.5 L94.1 450.3 L94.2 448.1 L94.3 446.0 L94.4 443.8 L94.6 441.6 L94.7 439.5 L94.8 437.3 L94.9 435.1 L95.0 433.0 L95.2 430.8 L95.3 428.6 L95.5 426.5 L95.6 424.3 L95.8 422.1 L96.0 420.0 L96.2 417.8 L96.5 415.6 L96.7 413.5 L97.0 411.3 L97.4 409.2 L97.8 407.1 L98.2 404.9 L98.7 402.8 L99.3 400.7 L99.8 398.6 L100.4 396.5 L101.0 394.4 L101.7 392.4 L102.5 390.3 L103.3 388.3 L104.2 386.1 L105.3 384.3 L107.0 383.3 L109.2 382.8 L111.3 383.1 L113.3 383.8 L115.3 384.7 L117.1 385.8 L118.9 387.1 L120.7 388.3 L122.6 389.4 L124.4 390.6 L126.3 391.8 L128.1 392.9 L130.0 393.9 L131.9 395.0 L133.8 396.0 L135.7 397.0 L137.7 398.0 L139.6 399.0 L141.6 399.9 L143.6 400.8 L145.6 401.6 L147.6 402.4 L149.7 403.1 L151.8 403.7 L153.9 404.3 L156.0 404.7 L158.1 405.1 L160.3 405.4 L162.4 405.7 L164.6 405.8 L166.8 405.8 L168.9 405.7 L171.1 405.5 L173.3 405.4 L175.4 405.2 L177.6 404.9 L179.8 404.7 L181.9 404.4 L184.1 404.0 L186.2 403.6 L188.3 403.2 L190.4 402.7 L192.6 402.3 L194.7 401.8 L196.8 401.3 L198.9 400.8 L201.0 400.2 L203.1 399.7 L205.2 399.1 L207.3 398.5 L209.4 397.9 L211.4 397.3 L213.5 396.6 L215.6 396.0 L217.7 395.3 L219.7 394.6 L221.8 393.9 L223.9 393.3 L225.9 392.6 L228.0 391.9 L230.0 391.2 L232.1 390.5 L234.1 389.7 L236.2 389.0 L238.2 388.2 L240.2 387.5 L242.3 386.7 L244.3 386.0 L246.3 385.2 L248.4 384.4 L250.4 383.6 L252.4 382.8 L254.4 382.0 L256.4 381.2 L258.4 380.4 L260.5 379.6 L262.5 378.8 L264.5 377.9 L266.5 377.1 L268.5 376.3 L270.5 375.4 L272.5 374.6 L274.5 373.8 L276.5 372.9 L278.5 372.1 L280.5 371.2 L282.5 370.4 L284.5 369.5 L286.5 368.6 L288.5 367.8 L290.5 366.9 L292.4 366.0 L294.4 365.2 L296.4 364.3 L298.4 363.4 L300.4 362.5 L302.4 361.6 L304.4 360.8 L306.3 359.9 L308.3 359.0 L310.3 358.1 L312.3 357.2 L314.3 356.3 L316.2 355.4 L318.2 354.5 L320.2 353.7 L322.2 352.8 L324.2 351.9 L326.2 351.0 L328.1 350.1 L330.1 349.2 L332.1 348.3 L334.1 347.4 L336.0 346.5 L338.0 345.6 L340.0 344.7 L342.0 343.8 L344.0 342.9 L345.9 342.1 L347.9 341.2 L349.9 340.3 L351.9 339.4 L353.9 338.5 L355.8 337.6 L357.8 336.7 L359.8 335.8 L361.8 334.9 L363.8 334.1 L365.8 333.2 L367.7 332.3 L369.7 331.4 L371.7 330.6 L373.7 329.7 L375.7 328.8 L377.7 328.0 L379.7 327.1 L381.7 326.2 L383.7 325.4 L385.7 324.5 L387.7 323.6 L389.6 322.8 L391.6 321.9 L393.6 321.1 L395.6 320.2 L397.6 319.4 L399.6 318.5 L401.6 317.7 L403.6 316.8 L405.6 316.0 L407.6 315.2 L409.6 314.3 L411.7 313.5 L413.7 312.7 L415.7 311.8 L417.7 311.0 L419.7 310.2 L421.7 309.3 L423.7 308.5 L425.7 307.7 L427.7 306.9 L429.7 306.1 L431.7 305.2 L433.7 304.4 L435.8 303.6 L437.8 302.8 L439.8 302.0 L441.8 301.2 L443.8 300.4 L445.8 299.6 L447.9 298.8 L449.9 298.0 L451.9 297.2 L453.9 296.4 L455.9 295.6 L458.0 294.8 L460.0 294.0 L462.0 293.2 L464.0 292.5 L466.1 291.7 L468.1 290.9 L470.1 290.1 L472.1 289.3 L474.2 288.5 L476.2 287.8 L478.2 287.0 L480.3 286.2 L482.3 285.5 L484.3 284.7 L486.4 283.9 L488.4 283.2 L490.4 282.4 L492.5 281.6 L494.5 280.9 L496.5 280.1 L498.6 279.4 L500.6 278.6 L502.6 277.9 L504.7 277.1 L506.7 276.4 L508.7 275.6 L510.8 274.9 L512.8 274.2 L514.9 273.4 L516.9 272.7 L519.0 271.9 L521.0 271.2 L523.0 270.5 L525.1 269.7 L527.1 269.0 L529.2 268.3 L531.2 267.6 L533.3 266.8 L535.3 266.1 L537.4 265.4 L539.4 264.7 L541.5 264.0 L543.5 263.2 L545.6 262.5 L547.6 261.8 L549.7 261.1 L551.7 260.4 L553.8 259.7 L555.8 259.0 L557.9 258.3 L559.9 257.6 L562.0 256.9 L564.1 256.2 L566.1 255.5 L568.2 254.8 L570.2 254.1 L572.3 253.4 L574.4 252.7 L576.4 252.1 L578.5 251.4 L580.5 250.7 L582.6 250.0 L584.7 249.3 L586.7 248.6 L588.8 248.0 L590.8 247.3 L592.9 246.6 L595.0 245.9 L597.0 245.3 L599.1 244.6 L601.2 243.9 L603.2 243.3 L605.3 242.6 L607.4 241.9 L609.4 241.3 L611.5 240.6 L613.6 240.0 L615.6 239.3 L617.7 238.7 L619.8 238.0 L621.9 237.4 L623.9 236.7 L626.0 236.1 L628.1 235.4 L630.2 234.8 L632.2 234.1 L634.3 233.5 L636.4 232.9 L638.5 232.2 L640.5 231.6 L642.6 230.9 L644.7 230.3 L646.8 229.7 L648.8 229.1 L650.9 228.4 L653.0 227.8 L655.1 227.2 L657.2 226.6 L659.2 225.9 L661.3 225.3 L663.4 224.7 L665.5 224.1 L667.6 223.5 L669.6 222.8 L671.7 222.2 L673.8 221.6 L675.9 221.0 L678.0 220.4 L680.1 219.8 L682.1 219.2 L684.2 218.6 L686.3 218.0 L688.4 217.4 L690.5 216.8 L692.6 216.2 L694.7 215.6 L696.8 215.0 L698.8 214.4 L700.9 213.8 L703.0 213.2 L705.1 212.6 L707.2 212.0 L709.3 211.4 L711.4 210.9 L713.5 210.3 L715.6 209.7 L717.7 209.1 L719.8 208.5 L721.8 208.0 L723.9 207.4 L726.0 206.8 L728.1 206.2 L730.2 205.7 L732.3 205.1 L734.4 204.5 L736.5 203.9 L738.6 203.4 L740.7 202.8 L742.8 202.2 L744.9 201.7 L747.0 201.1 L749.1 200.6 L751.2 200.0 L753.3 199.4 L755.4 198.9 L757.5 198.3 L759.6 197.8 L761.7 197.2 L763.8 196.7 L765.9 196.1 L768.0 195.6 L770.1 195.0 L772.2 194.5 L774.3 193.9 L776.4 193.4 L778.5 192.8 L780.6 192.3 L782.7 191.8 L784.8 191.2 L786.9 190.7" fill="none" stroke="#0e960e" stroke-width="2.5" stroke-dasharray="28.2 8.16" stroke-dashoffset="-3.6"/>

<!-- const M/L -->
<path d="M90.5 741.2 L90.5 739.3 L90.5 737.5 L90.5 735.6 L90.5 733.7 L90.5 731.8 L90.5 730.0 L90.5 728.1 L90.5 726.2 L90.5 724.3 L90.5 722.5 L90.5 720.6 L90.5 718.7 L90.5 716.9 L90.5 715.0 L90.5 713.1 L90.5 711.2 L90.5 709.4 L90.5 707.5 L90.5 705.6 L90.5 703.7 L90.5 701.9 L90.5 700.0 L90.6 698.1 L90.6 696.3 L90.6 694.4 L90.6 692.5 L90.6 690.6 L90.6 688.8 L90.6 686.9 L90.6 685.0 L90.6 683.1 L90.6 681.3 L90.6 679.4 L90.6 677.5 L90.6 675.7 L90.6 673.8 L90.6 671.9 L90.6 670.0 L90.6 668.2 L90.6 666.3 L90.6 664.4 L90.6 662.5 L90.6 660.7 L90.6 658.8 L90.6 656.9 L90.6 655.1 L90.6 653.2 L90.6 651.3 L90.6 649.4 L90.6 647.6 L90.6 645.7 L90.6 643.8 L90.6 641.9 L90.6 640.1 L90.6 638.2 L90.6 636.3 L90.6 634.5 L90.6 632.6 L90.6 630.7 L90.6 628.8 L90.6 627.0 L90.6 625.1 L90.6 623.2 L90.6 621.4 L90.6 619.5 L90.6 617.6 L90.6 615.7 L90.6 613.9 L90.6 612.0 L90.6 610.1 L90.6 608.2 L90.6 606.4 L90.6 604.5 L90.7 602.6 L90.7 600.8 L90.7 598.9 L90.7 597.0 L90.7 595.1 L90.7 593.3 L90.7 591.4 L90.7 589.5 L90.7 587.6 L90.7 585.8 L90.7 583.9 L90.7 582.0 L90.7 580.2 L90.7 578.3 L90.7 576.4 L90.7 574.5 L90.7 572.7 L90.7 570.8 L90.7 568.9 L90.7 567.0 L90.7 565.2 L90.7 563.3 L90.8 561.4 L90.8 559.6 L90.8 557.7 L90.8 555.8 L90.8 553.9 L90.8 552.1 L90.8 550.2 L90.8 548.3 L90.8 546.4 L90.8 544.6 L90.8 542.7 L90.8 540.8 L90.8 539.0 L90.9 537.1 L90.9 535.2 L90.9 533.3 L90.9 531.5 L90.9 529.6 L90.9 527.7 L90.9 525.8 L91.0 524.0 L91.0 522.1 L91.0 520.2 L91.0 518.4 L91.0 516.5 L91.1 514.6 L91.1 512.7 L91.1 510.9 L91.2 509.0 L91.2 507.1 L91.2 505.2 L91.3 503.4 L91.3 501.5 L91.3 499.6 L91.4 497.8 L91.4 495.9 L91.4 494.0 L91.5 492.1 L91.5 490.3 L91.5 488.4 L91.6 486.5 L91.6 484.7 L91.6 482.8 L91.6 480.9 L91.7 479.0 L91.7 477.2 L91.7 475.3 L91.8 473.4 L91.8 471.5 L91.8 469.7 L91.9 467.8 L91.9 465.9 L91.9 464.1 L92.0 462.2 L92.0 460.3 L92.0 458.4 L92.1 456.6 L92.1 454.7 L92.1 452.8 L92.2 450.9 L92.2 449.1 L92.2 447.2 L92.3 445.3 L92.3 443.5 L92.3 441.6 L92.4 439.7 L92.4 437.8 L92.4 436.0 L92.5 434.1 L92.5 432.2 L92.6 430.4 L92.6 428.5 L92.7 426.6 L92.8 424.7 L92.9 422.9 L92.9 421.0 L93.0 419.1 L93.1 417.3 L93.2 415.4 L93.4 413.5 L93.5 411.6 L93.6 409.8 L93.8 407.9 L94.0 406.1 L94.3 404.2 L94.5 402.3 L94.8 400.5 L95.1 398.6 L95.5 396.7 L96.0 395.0 L96.9 393.2 L98.2 391.7 L99.5 392.3 L100.8 393.9 L101.7 395.5 L102.4 397.3 L103.1 399.0 L103.7 400.8 L104.3 402.6 L104.9 404.4 L105.5 406.1 L106.3 407.8 L107.1 409.5 L107.9 411.2 L108.7 412.9 L109.6 414.6 L110.4 416.3 L111.2 417.9 L112.0 419.6 L112.8 421.3 L113.6 423.0 L114.3 424.7 L115.1 426.4 L115.9 428.1 L116.7 429.8 L117.5 431.6 L118.2 433.3 L119.0 435.0 L119.8 436.7 L120.7 438.3" fill="none" stroke="#5f9ea0" stroke-width="2.5" stroke-linejoin="round"/>
<path d="M122.30 441.40L122.80 442.28L123.30 443.14L123.80 443.99L124.30 444.83L124.80 445.66L125.30 446.49L125.80 447.30L126.30 448.12L126.80 448.93L127.30 449.75M128.80 452.22L129.30 453.04L129.80 453.86L130.30 454.68L130.80 455.49L131.30 456.29L131.80 457.09L132.30 457.88L132.80 458.67L133.30 459.44L133.80 460.20L133.90 460.35M135.30 462.42L135.80 463.14L136.30 463.86L136.80 464.56L137.30 465.27L137.80 465.96L138.30 466.65L138.80 467.34L139.30 468.03L139.80 468.71L140.30 469.39L140.80 470.07L141.10 470.48M143.30 473.49L143.80 474.17L144.30 474.85L144.80 475.53L145.30 476.21L145.80 476.89L146.30 477.56L146.80 478.22L147.30 478.89L147.80 479.54L148.30 480.19L148.80 480.84L149.30 481.48L149.80 482.11M152.60 485.49L153.10 486.07L153.60 486.64L154.10 487.20L154.60 487.75L155.10 488.29L155.60 488.82L156.10 489.35L156.60 489.87L157.10 490.38L157.60 490.89L158.10 491.40L158.60 491.90L159.10 492.39L159.60 492.88L160.10 493.37L160.60 493.86M163.50 496.63L164.00 497.10L164.50 497.58L165.00 498.05L165.50 498.52L166.00 498.99L166.50 499.47L167.00 499.94L167.50 500.42L168.00 500.89L168.50 501.36L169.00 501.83L169.50 502.30L170.00 502.77L170.50 503.24L171.00 503.70L171.50 504.16L172.00 504.62L172.20 504.81M175.10 507.39L175.60 507.82L176.10 508.25L176.60 508.67L177.10 509.08L177.60 509.50L178.10 509.90L178.60 510.30L179.10 510.69L179.60 511.08L180.10 511.46L180.60 511.84L181.10 512.22L181.60 512.59L182.10 512.95L182.60 513.31L183.10 513.67L183.60 514.03L184.10 514.38L184.60 514.73L185.10 515.08L185.60 515.42L186.10 515.76L186.60 516.10M190.20 518.53L190.70 518.86L191.20 519.20L191.70 519.53L192.20 519.87L192.70 520.20L193.20 520.53L193.70 520.87L194.20 521.20L194.70 521.53L195.20 521.85L195.70 522.18L196.20 522.51L196.70 522.83L197.20 523.15L197.70 523.47L198.20 523.79L198.70 524.11L199.20 524.43L199.70 524.74L200.20 525.05L200.70 525.36L201.20 525.67L201.70 525.98L202.20 526.28L202.50 526.46M206.90 529.03L207.40 529.31L207.90 529.59L208.40 529.87L208.90 530.15L209.40 530.42L209.90 530.70L210.40 530.97L210.90 531.24L211.40 531.51L211.90 531.78L212.40 532.05L212.90 532.32L213.40 532.59L213.90 532.85L214.40 533.12L214.90 533.38L215.40 533.65L215.90 533.92L216.40 534.18L216.90 534.45L217.40 534.71L217.90 534.98L218.40 535.24L218.90 535.50L219.40 535.77L219.90 536.03L220.40 536.29L220.90 536.55L221.40 536.81L221.90 537.07L222.40 537.33L222.70 537.48M227.10 539.71L227.60 539.96L228.10 540.21L228.60 540.45L229.10 540.70L229.60 540.94L230.10 541.18L230.60 541.43L231.10 541.67L231.60 541.91L232.10 542.15L232.60 542.38L233.10 542.62L233.60 542.86L234.10 543.09L234.60 543.33L235.10 543.56L235.60 543.80L236.10 544.03L236.60 544.26L237.10 544.49L237.60 544.72L238.10 544.95L238.60 545.18L239.10 545.40L239.60 545.63L240.10 545.85L240.60 546.08L241.10 546.30L241.60 546.53L242.10 546.75L242.60 546.97L243.10 547.19L243.60 547.41L244.10 547.63L244.60 547.85L245.10 548.06L245.60 548.28L246.10 548.50L246.20 548.54M250.90 550.53L251.40 550.74L251.90 550.95L252.40 551.15L252.90 551.36L253.40 551.56L253.90 551.77L254.40 551.97L254.90 552.17L255.40 552.38L255.90 552.58L256.40 552.78L256.90 552.98L257.40 553.18L257.90 553.38L258.40 553.58L258.90 553.78L259.40 553.97L259.90 554.17L260.40 554.37L260.50 554.40M263.90 555.72L264.40 555.91L264.90 556.10L265.40 556.29L265.90 556.48L266.40 556.67L266.90 556.85L267.40 557.04L267.90 557.23L268.40 557.41L268.90 557.60L269.40 557.78L269.90 557.97L270.40 558.15L270.90 558.33L271.40 558.51L271.90 558.70L272.40 558.88L272.90 559.06L273.20 559.16M278.80 561.14L279.30 561.31L279.80 561.49L280.30 561.66L280.80 561.83L281.30 562.00L281.80 562.17L282.30 562.34L282.80 562.51L283.30 562.68L283.80 562.85L284.30 563.02L284.80 563.18L285.30 563.35L285.80 563.52L286.30 563.68L286.80 563.85L287.30 564.01L287.80 564.18L288.30 564.34L288.70 564.47M293.40 565.97L293.90 566.13L294.40 566.28L294.90 566.44L295.40 566.59L295.90 566.74L296.40 566.90L296.90 567.05L297.40 567.21L297.90 567.36L298.40 567.51L298.90 567.66L299.40 567.82L299.90 567.97L300.40 568.12L300.90 568.27L301.40 568.42L301.90 568.57L302.40 568.72L302.90 568.87L303.40 569.02L303.90 569.17L304.40 569.31L304.90 569.46L305.40 569.61L305.90 569.76L306.10 569.81M311.50 571.38L312.00 571.52L312.50 571.66L313.00 571.80L313.50 571.94L314.00 572.08L314.50 572.22L315.00 572.36L315.50 572.50L316.00 572.64L316.50 572.78L317.00 572.92L317.50 573.06L318.00 573.20L318.50 573.33L319.00 573.47L319.50 573.60L320.00 573.74L320.50 573.88L321.00 574.01L321.50 574.15L322.00 574.28L322.10 574.31M327.20 575.65L327.70 575.78L328.20 575.91L328.70 576.04L329.20 576.17L329.70 576.30L330.20 576.43L330.70 576.56L331.20 576.69L331.70 576.81L332.20 576.94L332.70 577.07L333.20 577.19L333.70 577.32L334.20 577.45L334.70 577.57L335.20 577.70L335.70 577.82L336.20 577.95L336.70 578.07L337.20 578.20L337.70 578.32L338.20 578.44L338.70 578.57L339.20 578.69L339.70 578.81L340.20 578.94L340.70 579.06L341.20 579.18L341.70 579.30L342.20 579.43L342.70 579.55L343.20 579.67L343.70 579.79L344.00 579.86M349.20 581.11L349.70 581.23L350.20 581.35L350.70 581.46L351.20 581.58L351.70 581.70L352.20 581.82L352.70 581.93L353.20 582.05L353.70 582.17L354.20 582.28L354.70 582.40L355.20 582.52L355.70 582.63L356.20 582.75L356.70 582.86L357.20 582.98L357.70 583.09L358.20 583.21L358.70 583.32L359.20 583.44L359.70 583.55L360.20 583.67L360.60 583.76M365.60 584.88L366.10 584.99L366.60 585.11L367.10 585.22L367.60 585.33L368.10 585.44L368.60 585.55L369.10 585.66L369.60 585.77L370.10 585.88L370.60 585.99L371.10 586.10L371.60 586.21L372.10 586.31L372.60 586.42L373.10 586.53L373.60 586.64L374.10 586.75L374.60 586.86L375.10 586.96L375.60 587.07L376.10 587.18L376.60 587.28L377.10 587.39L377.60 587.50L378.10 587.60L378.60 587.71L379.10 587.82L379.60 587.92L380.10 588.03L380.60 588.13L381.10 588.24L381.60 588.34L382.10 588.45L382.60 588.55L383.10 588.66L383.60 588.76L384.10 588.87L384.60 588.97L385.10 589.07L385.60 589.18L386.10 589.28L386.60 589.38L387.10 589.49L387.60 589.59L388.10 589.69L388.60 589.80L389.10 589.90L389.20 589.92M394.30 590.95L394.80 591.05L395.30 591.15L395.80 591.25L396.30 591.35L396.80 591.45L397.30 591.55L397.80 591.65L398.30 591.75L398.80 591.85L399.30 591.95L399.80 592.04L400.30 592.14L400.80 592.24L401.30 592.34L401.80 592.43L402.30 592.53L402.80 592.63L403.30 592.73L403.80 592.82L404.30 592.92L404.80 593.02L405.30 593.11L405.80 593.21L406.10 593.27M412.50 594.48L413.00 594.57L413.50 594.66L414.00 594.76L414.50 594.85L415.00 594.94L415.50 595.04L416.00 595.13L416.50 595.22L417.00 595.31L417.50 595.40L418.00 595.50L418.50 595.59L419.00 595.68L419.50 595.77L420.00 595.86L420.50 595.95L421.00 596.04L421.50 596.13L422.00 596.22L422.50 596.31L423.00 596.40L423.50 596.49L423.80 596.55M429.90 597.63L430.40 597.72L430.90 597.80L431.40 597.89L431.90 597.98L432.40 598.07L432.90 598.15L433.40 598.24L433.90 598.32L434.40 598.41L434.90 598.50L435.40 598.58L435.90 598.67L436.40 598.75L436.90 598.84L437.40 598.92L437.90 599.01L438.40 599.09L438.90 599.18L439.40 599.26L439.90 599.35L440.40 599.43L440.90 599.52L441.40 599.60L441.70 599.65M447.60 600.63L448.10 600.71L448.60 600.79L449.10 600.87L449.60 600.95L450.10 601.03L450.60 601.11L451.10 601.19L451.60 601.28L452.10 601.36L452.60 601.44L453.10 601.52L453.60 601.60L454.10 601.68L454.60 601.76L455.10 601.84L455.60 601.91L456.10 601.99L456.60 602.07L457.10 602.15L457.60 602.23L458.10 602.31L458.60 602.39L459.10 602.47L459.40 602.51M465.10 603.40L465.60 603.47L466.10 603.55L466.60 603.62L467.10 603.70L467.60 603.78L468.10 603.85L468.60 603.93L469.10 604.00L469.60 604.08L470.10 604.15L470.60 604.23L471.10 604.30L471.60 604.38L472.10 604.45L472.60 604.53L473.10 604.60L473.60 604.67L474.10 604.75L474.60 604.82L475.10 604.90L475.60 604.97L476.10 605.04L476.60 605.12M483.10 606.06L483.60 606.13L484.10 606.20L484.60 606.27L485.10 606.34L485.60 606.41L486.10 606.48L486.60 606.56L487.10 606.63L487.60 606.70L488.10 606.77L488.60 606.84L489.10 606.91L489.60 606.98L490.10 607.05L490.60 607.11L491.10 607.18L491.60 607.25L492.10 607.32L492.60 607.39L493.10 607.46L493.60 607.53L494.10 607.60L494.60 607.67L495.10 607.73L495.60 607.80L496.10 607.87L496.60 607.94L497.10 608.00L497.60 608.07L498.10 608.14L498.60 608.21L499.10 608.27L499.60 608.34L500.10 608.41L500.60 608.47L501.10 608.54L501.60 608.60L502.10 608.67L502.60 608.74L503.10 608.80L503.60 608.87L503.70 608.88M511.40 609.88L511.90 609.95L512.40 610.01L512.90 610.08L513.40 610.14L513.90 610.20L514.40 610.27L514.90 610.33L515.40 610.39L515.90 610.46L516.40 610.52L516.90 610.58L517.40 610.65L517.90 610.71L518.40 610.77L518.90 610.84L519.40 610.90L519.90 610.96L520.40 611.02L520.90 611.08L521.40 611.15L521.90 611.21L522.00 611.22M529.40 612.12L529.90 612.18L530.40 612.24L530.90 612.30L531.40 612.36L531.90 612.42L532.40 612.48L532.90 612.54L533.40 612.60L533.90 612.66L534.40 612.72L534.90 612.78L535.40 612.83L535.90 612.89L536.40 612.95L536.90 613.01L537.40 613.07L537.90 613.12L538.40 613.18L538.90 613.24L539.40 613.30L539.90 613.35L540.40 613.41L540.90 613.47M548.10 614.28L548.60 614.33L549.10 614.39L549.60 614.44L550.10 614.50L550.60 614.55L551.10 614.61L551.60 614.66L552.10 614.72L552.60 614.77L553.10 614.83L553.60 614.88L554.10 614.94L554.60 614.99L555.10 615.05L555.60 615.10L556.10 615.16L556.60 615.21L557.10 615.26L557.60 615.32L558.10 615.37L558.60 615.43L559.10 615.48L559.60 615.53M566.00 616.22L566.50 616.27L567.00 616.32L567.50 616.37L568.00 616.43L568.50 616.48L569.00 616.53L569.50 616.58L570.00 616.63L570.50 616.69L571.00 616.74L571.50 616.79L572.00 616.84L572.50 616.89L573.00 616.95L573.50 617.00L574.00 617.05L574.50 617.10L575.00 617.15L575.50 617.20L576.00 617.25L576.50 617.30L577.00 617.36L577.50 617.41L578.00 617.46M585.30 618.19L585.80 618.24L586.30 618.29L586.80 618.34L587.30 618.39L587.80 618.44L588.30 618.49L588.80 618.54L589.30 618.59L589.80 618.64L590.30 618.69L590.80 618.73L591.30 618.78L591.80 618.83L592.30 618.88L592.80 618.93L593.30 618.98L593.80 619.03L594.30 619.08L594.80 619.12L595.30 619.17L595.80 619.22L596.30 619.27L596.80 619.32M604.00 620.00L604.50 620.05L605.00 620.10L605.50 620.14L606.00 620.19L606.50 620.24L607.00 620.28L607.50 620.33L608.00 620.38L608.50 620.42L609.00 620.47L609.50 620.51L610.00 620.56L610.50 620.61L611.00 620.65L611.50 620.70L612.00 620.74L612.50 620.79L613.00 620.83L613.50 620.88L614.00 620.93L614.50 620.97L615.00 621.02L615.50 621.06M622.60 621.70L623.10 621.74L623.60 621.79L624.10 621.83L624.60 621.87L625.10 621.92L625.60 621.96L626.10 622.01L626.60 622.05L627.10 622.09L627.60 622.14L628.10 622.18L628.60 622.22L629.10 622.27L629.60 622.31L630.10 622.36L630.60 622.40L631.10 622.44L631.60 622.49L632.10 622.53L632.60 622.57L633.10 622.61L633.60 622.66L633.90 622.68M641.50 623.33L642.00 623.38L642.50 623.42L643.00 623.46L643.50 623.50L644.00 623.55L644.50 623.59L645.00 623.63L645.50 623.67L646.00 623.72L646.50 623.76L647.00 623.80L647.50 623.84L648.00 623.88L648.50 623.93L649.00 623.97L649.50 624.01L650.00 624.05L650.50 624.10L651.00 624.14L651.50 624.18L652.00 624.22L652.50 624.26L653.00 624.30L653.50 624.35L654.00 624.39L654.50 624.43L655.00 624.47L655.50 624.51L656.00 624.56L656.50 624.60L657.00 624.64L657.50 624.68L658.00 624.72L658.50 624.76L659.00 624.81L659.50 624.85L660.00 624.89L660.50 624.93L661.00 624.97L661.50 625.02L662.00 625.06L662.50 625.10L663.00 625.14L663.50 625.18L664.00 625.22L664.50 625.26L665.00 625.30L665.50 625.35M672.80 625.94L673.30 625.98L673.80 626.02L674.30 626.06L674.80 626.10L675.30 626.14L675.80 626.18L676.30 626.22L676.80 626.26L677.30 626.30L677.80 626.34L678.30 626.38L678.80 626.42L679.30 626.46L679.80 626.50L680.30 626.54L680.80 626.58L681.30 626.62L681.80 626.66L682.30 626.70L682.80 626.74L683.30 626.78L683.80 626.82L683.90 626.83M691.70 627.44L692.20 627.48L692.70 627.52L693.20 627.56L693.70 627.60L694.20 627.64L694.70 627.67L695.20 627.71L695.70 627.75L696.20 627.79L696.70 627.83L697.20 627.87L697.70 627.91L698.20 627.95L698.70 627.99L699.20 628.03L699.70 628.07L700.20 628.11L700.70 628.14L701.20 628.18L701.70 628.22L702.20 628.26L702.70 628.30L703.00 628.32M710.50 628.91L711.00 628.95L711.50 628.99L712.00 629.03L712.50 629.07L713.00 629.11L713.50 629.15L714.00 629.19L714.50 629.23L715.00 629.27L715.50 629.31L716.00 629.35L716.50 629.39L717.00 629.43L717.50 629.47L718.00 629.51L718.50 629.55L719.00 629.59L719.50 629.62L720.00 629.66L720.50 629.70L721.00 629.74L721.50 629.78L722.00 629.82M729.60 630.43L730.10 630.47L730.60 630.51L731.10 630.55L731.60 630.59L732.10 630.63L732.60 630.67L733.10 630.71L733.60 630.75L734.10 630.79L734.60 630.83L735.10 630.87L735.60 630.91L736.10 630.95L736.60 630.99L737.10 631.03L737.60 631.07L738.10 631.11L738.60 631.15L739.10 631.19L739.60 631.23L740.10 631.27L740.40 631.30M748.60 631.95L749.10 631.99L749.60 632.03L750.10 632.07L750.60 632.11L751.10 632.15L751.60 632.19L752.10 632.23L752.60 632.27L753.10 632.31L753.60 632.35L754.10 632.39L754.60 632.43L755.10 632.47L755.60 632.51L756.10 632.55L756.60 632.59L757.10 632.63L757.60 632.67L758.10 632.71L758.60 632.75L759.10 632.79L759.60 632.83L760.10 632.87L760.60 632.91L761.10 632.95L761.60 632.99L762.10 633.03L762.60 633.07L763.10 633.11L763.60 633.15L764.10 633.19L764.60 633.23L765.10 633.27L765.60 633.31L766.10 633.35L766.60 633.39L767.10 633.43L767.60 633.47L768.10 633.51L768.60 633.55L769.10 633.59M776.70 634.21L777.20 634.25L777.70 634.29L778.20 634.33L778.70 634.37L779.20 634.41L779.70 634.45L780.20 634.49L780.70 634.53L781.20 634.57L781.70 634.61L782.20 634.65L782.70 634.69L783.20 634.73L783.70 634.77L784.20 634.81L784.70 634.85L785.20 634.89L785.70 634.93L786.20 634.97L786.70 635.01L787.00 635.03" fill="none" stroke="#5f9ea0" stroke-width="2.5"/>

<!-- data points: orange -->
<g stroke="#ff9d22" stroke-width="1.3" fill="none" stroke-linecap="round">
<path d="M133.4 200.5V393.2M125.5 200.5h15.8M125.5 393.2h15.8"/>
<path d="M195.9 234.5V386.5M187.9 234.5h16M187.9 386.5h16"/>
<path d="M428 340.2V454.8M420 340.2h16M420 454.8h16"/>
</g>
<g fill="#ff8c00"><circle cx="133.5" cy="296.5" r="8"/><circle cx="195.9" cy="310.4" r="8"/><circle cx="428" cy="397.5" r="8"/></g>

<!-- cyan star -->
<path d="M146.7 346.8V367.5M135 346.8h23M135 367.5h23" stroke="#10cbe0" stroke-width="1.5" fill="none"/>
<path d="M146.6 346.5 L149.7 353.5 L157.3 354.2 L151.5 359.3 L153.2 366.8 L146.6 362.9 L140.0 366.8 L141.7 359.3 L135.9 354.2 L143.5 353.5Z" fill="none" stroke="#0ccbe0" stroke-width="2.9" stroke-linejoin="round"/>

<!-- dark red triangle -->
<path d="M259.6 312.8V354M248.2 312.8h22.6M248.2 354h22.6" stroke="#961414" stroke-width="1.25" fill="none"/>
<path d="M259.5 322.7L268.4 338.5H250.6Z" fill="none" stroke="#8b0000" stroke-width="2.6" stroke-linejoin="miter"/>

<!-- tick labels -->
<g fill="none" stroke-linecap="round" stroke-linejoin="round">
<path d="M89.73 16.77L87.55 17.50L86.10 19.69L85.38 23.34L85.38 25.53L86.10 29.18L87.55 31.37L89.73 32.10L91.17 32.10L93.35 31.37L94.80 29.18L95.53 25.53L95.53 23.34L94.80 19.69L93.35 17.50L91.17 16.77L89.73 16.77M288.18 16.77L280.93 16.77L280.20 23.34L280.93 22.61L283.10 21.88L285.28 21.88L287.45 22.61L288.90 24.07L289.62 26.26L289.62 27.72L288.90 29.91L287.45 31.37L285.28 32.10L283.10 32.10L280.93 31.37L280.20 30.64L279.48 29.18M298.32 16.77L296.15 17.50L294.70 19.69L293.98 23.34L293.98 25.53L294.70 29.18L296.15 31.37L298.32 32.10L299.78 32.10L301.95 31.37L303.40 29.18L304.12 25.53L304.12 23.34L303.40 19.69L301.95 17.50L299.78 16.77L298.32 16.77M475.75 19.69L477.20 18.96L479.38 16.77L479.38 32.10M492.42 16.77L490.25 17.50L488.80 19.69L488.07 23.34L488.07 25.53L488.80 29.18L490.25 31.37L492.42 32.10L493.88 32.10L496.05 31.37L497.50 29.18L498.22 25.53L498.22 23.34L497.50 19.69L496.05 17.50L493.88 16.77L492.42 16.77M506.92 16.77L504.75 17.50L503.30 19.69L502.57 23.34L502.57 25.53L503.30 29.18L504.75 31.37L506.92 32.10L508.38 32.10L510.55 31.37L512.00 29.18L512.73 25.53L512.73 23.34L512.00 19.69L510.55 17.50L508.38 16.77L506.92 16.77M677.10 19.69L678.55 18.96L680.73 16.77L680.73 32.10M698.13 16.77L690.88 16.77L690.15 23.34L690.88 22.61L693.05 21.88L695.23 21.88L697.40 22.61L698.85 24.07L699.58 26.26L699.58 27.72L698.85 29.91L697.40 31.37L695.23 32.10L693.05 32.10L690.88 31.37L690.15 30.64L689.43 29.18M708.28 16.77L706.10 17.50L704.65 19.69L703.93 23.34L703.93 25.53L704.65 29.18L706.10 31.37L708.28 32.10L709.73 32.10L711.90 31.37L713.35 29.18L714.08 25.53L714.08 23.34L713.35 19.69L711.90 17.50L709.73 16.77L708.28 16.77M89.73 754.47L87.55 755.20L86.10 757.39L85.38 761.04L85.38 763.23L86.10 766.88L87.55 769.07L89.73 769.80L91.17 769.80L93.35 769.07L94.80 766.88L95.53 763.23L95.53 761.04L94.80 757.39L93.35 755.20L91.17 754.47L89.73 754.47M273.67 757.39L275.12 756.66L277.30 754.47L277.30 769.80M290.34 754.47L288.17 755.20L286.72 757.39L286.00 761.04L286.00 763.23L286.72 766.88L288.17 769.07L290.34 769.80L291.80 769.80L293.97 769.07L295.42 766.88L296.14 763.23L296.14 761.04L295.42 757.39L293.97 755.20L291.80 754.47L290.34 754.47M465.59 758.12L465.59 757.39L466.31 755.93L467.04 755.20L468.49 754.47L471.39 754.47L472.84 755.20L473.56 755.93L474.29 757.39L474.29 758.85L473.56 760.31L472.12 762.50L464.87 769.80L475.01 769.80M483.71 754.47L481.54 755.20L480.09 757.39L479.37 761.04L479.37 763.23L480.09 766.88L481.54 769.07L483.71 769.80L485.17 769.80L487.34 769.07L488.79 766.88L489.51 763.23L489.51 761.04L488.79 757.39L487.34 755.20L485.17 754.47L483.71 754.47M659.69 754.47L667.66 754.47L663.31 760.31L665.49 760.31L666.94 761.04L667.66 761.77L668.39 763.96L668.39 765.42L667.66 767.61L666.21 769.07L664.04 769.80L661.86 769.80L659.69 769.07L658.96 768.34L658.24 766.88M677.09 754.47L674.91 755.20L673.46 757.39L672.74 761.04L672.74 763.23L673.46 766.88L674.91 769.07L677.09 769.80L678.54 769.80L680.71 769.07L682.16 766.88L682.89 763.23L682.89 761.04L682.16 757.39L680.71 755.20L678.54 754.47L677.09 754.47M69.62 733.82L67.45 734.55L66.00 736.74L65.27 740.39L65.27 742.58L66.00 746.23L67.45 748.42L69.62 749.15L71.07 749.15L73.25 748.42L74.70 746.23L75.42 742.58L75.42 740.39L74.70 736.74L73.25 734.55L71.07 733.82L69.62 733.82M37.00 590.89L37.00 590.16L37.72 588.70L38.45 587.97L39.90 587.24L42.80 587.24L44.25 587.97L44.97 588.70L45.70 590.16L45.70 591.62L44.97 593.08L43.52 595.27L36.27 602.57L46.42 602.57M55.12 587.24L52.95 587.97L51.50 590.16L50.77 593.81L50.77 596.00L51.50 599.65L52.95 601.84L55.12 602.57L56.57 602.57L58.75 601.84L60.20 599.65L60.92 596.00L60.92 593.81L60.20 590.16L58.75 587.97L56.57 587.24L55.12 587.24M69.62 587.24L67.45 587.97L66.00 590.16L65.27 593.81L65.27 596.00L66.00 599.65L67.45 601.84L69.62 602.57L71.07 602.57L73.25 601.84L74.70 599.65L75.42 596.00L75.42 593.81L74.70 590.16L73.25 587.97L71.07 587.24L69.62 587.24M43.52 440.66L36.27 450.88L47.15 450.88M43.52 440.66L43.52 455.99M55.12 440.66L52.95 441.39L51.50 443.58L50.77 447.23L50.77 449.42L51.50 453.07L52.95 455.26L55.12 455.99L56.57 455.99L58.75 455.26L60.20 453.07L60.92 449.42L60.92 447.23L60.20 443.58L58.75 441.39L56.57 440.66L55.12 440.66M69.62 440.66L67.45 441.39L66.00 443.58L65.27 447.23L65.27 449.42L66.00 453.07L67.45 455.26L69.62 455.99L71.07 455.99L73.25 455.26L74.70 453.07L75.42 449.42L75.42 447.23L74.70 443.58L73.25 441.39L71.07 440.66L69.62 440.66M45.70 296.27L44.97 294.81L42.80 294.08L41.35 294.08L39.17 294.81L37.72 297.00L37.00 300.65L37.00 304.30L37.72 307.22L39.17 308.68L41.35 309.41L42.07 309.41L44.25 308.68L45.70 307.22L46.42 305.03L46.42 304.30L45.70 302.11L44.25 300.65L42.07 299.92L41.35 299.92L39.17 300.65L37.72 302.11L37.00 304.30M55.12 294.08L52.95 294.81L51.50 297.00L50.77 300.65L50.77 302.84L51.50 306.49L52.95 308.68L55.12 309.41L56.57 309.41L58.75 308.68L60.20 306.49L60.92 302.84L60.92 300.65L60.20 297.00L58.75 294.81L56.57 294.08L55.12 294.08M69.62 294.08L67.45 294.81L66.00 297.00L65.27 300.65L65.27 302.84L66.00 306.49L67.45 308.68L69.62 309.41L71.07 309.41L73.25 308.68L74.70 306.49L75.42 302.84L75.42 300.65L74.70 297.00L73.25 294.81L71.07 294.08L69.62 294.08M39.90 147.50L37.72 148.23L37.00 149.69L37.00 151.15L37.72 152.61L39.17 153.34L42.07 154.07L44.25 154.80L45.70 156.26L46.42 157.72L46.42 159.91L45.70 161.37L44.97 162.10L42.80 162.83L39.90 162.83L37.72 162.10L37.00 161.37L36.27 159.91L36.27 157.72L37.00 156.26L38.45 154.80L40.62 154.07L43.52 153.34L44.97 152.61L45.70 151.15L45.70 149.69L44.97 148.23L42.80 147.50L39.90 147.50M55.12 147.50L52.95 148.23L51.50 150.42L50.77 154.07L50.77 156.26L51.50 159.91L52.95 162.10L55.12 162.83L56.57 162.83L58.75 162.10L60.20 159.91L60.92 156.26L60.92 154.07L60.20 150.42L58.75 148.23L56.57 147.50L55.12 147.50M69.62 147.50L67.45 148.23L66.00 150.42L65.27 154.07L65.27 156.26L66.00 159.91L67.45 162.10L69.62 162.83L71.07 162.83L73.25 162.10L74.70 159.91L75.42 156.26L75.42 154.07L74.70 150.42L73.25 148.23L71.07 147.50L69.62 147.50" stroke="#000" stroke-width="1.5"/>
<!-- axis labels -->
<path d="M549.98 12.84L547.10 23.90M548.74 17.58L549.99 15.21L551.65 13.63L553.12 12.84L555.00 12.84M575.00 4.15L575.00 29.43M575.50 4.15L575.50 29.43M575.00 4.15L580.88 4.15M575.00 29.43L580.88 29.43M586.77 7.31L586.77 23.90M595.17 12.84L586.77 20.74M590.13 17.58L596.01 23.90M601.06 12.84L601.06 29.43M601.06 15.21L602.74 13.63L604.42 12.84L606.94 12.84L608.62 13.63L610.30 15.21L611.14 17.58L611.14 19.16L610.30 21.53L608.62 23.11L606.94 23.90L604.42 23.90L602.74 23.11L601.06 21.53M626.27 15.21L624.59 13.63L622.91 12.84L620.39 12.84L618.71 13.63L617.03 15.21L616.19 17.58L616.19 19.16L617.03 21.53L618.71 23.11L620.39 23.90L622.91 23.90L624.59 23.11L626.27 21.53M636.70 4.15L636.70 29.43M637.20 4.15L637.20 29.43M631.32 4.15L637.20 4.15M631.32 29.43L637.20 29.43M375.28 793.74L372.40 804.80M374.04 798.48L375.24 796.11L376.80 794.53L378.17 793.74L379.90 793.74M394.60 785.05L394.60 810.33M395.10 785.05L395.10 810.33M394.60 785.05L400.48 785.05M394.60 810.33L400.48 810.33M415.60 793.74L415.60 804.80M415.60 796.11L413.92 794.53L412.24 793.74L409.72 793.74L408.04 794.53L406.36 796.11L405.52 798.48L405.52 800.06L406.36 802.43L408.04 804.01L409.72 804.80L412.24 804.80L413.92 804.01L415.60 802.43M422.33 793.74L422.33 804.80M422.33 798.48L423.17 796.11L424.85 794.53L426.53 793.74L429.05 793.74M442.49 796.11L440.81 794.53L439.13 793.74L436.61 793.74L434.93 794.53L433.25 796.11L432.41 798.48L432.41 800.06L433.25 802.43L434.93 804.01L436.61 804.80L439.13 804.80L440.81 804.01L442.49 802.43M448.37 793.74L448.37 804.80M448.37 796.90L450.89 794.53L452.57 793.74L455.09 793.74L456.77 794.53L457.61 796.90L457.61 804.80M457.61 796.90L460.13 794.53L461.81 793.74L464.33 793.74L466.01 794.53L466.85 796.90L466.85 804.80M472.73 788.21L473.57 789.00L474.41 788.21L473.57 787.42L472.73 788.21M473.57 793.74L473.57 804.80M480.30 793.74L480.30 804.80M480.30 796.90L482.82 794.53L484.50 793.74L487.02 793.74L488.70 794.53L489.54 796.90L489.54 804.80M500.80 785.05L500.80 810.33M501.30 785.05L501.30 810.33M495.42 785.05L501.30 785.05M495.42 810.33L501.30 810.33" stroke="#000" stroke-width="1.6"/>
<g transform="translate(24.8,489) rotate(-90)"><path d="M1.10 -11.06L2.97 0.00M10.60 -11.06L2.97 0.00M36.90 -19.75L34.99 -18.17L33.07 -15.80L31.16 -12.64L30.20 -8.69L30.20 -5.53L31.16 -1.58L33.07 1.58L34.99 3.95L36.90 5.53M43.48 -11.06L40.60 0.00M42.24 -6.32L43.51 -8.69L45.23 -10.27L46.74 -11.06L48.70 -11.06M51.70 -19.75L53.81 -18.17L55.93 -15.80L58.04 -12.64L59.10 -8.69L59.10 -5.53L58.04 -1.58L55.93 1.58L53.81 3.95L51.70 5.53M80.70 -19.75L80.70 5.53M81.16 -19.75L81.16 5.53M80.70 -19.75L86.10 -19.75M80.70 5.53L86.10 5.53M92.50 -16.59L92.50 0.00M100.86 -11.06L92.50 -3.16M95.84 -6.32L101.69 0.00M106.71 -11.06L106.71 0.00M106.71 -7.90L109.22 -10.27L110.89 -11.06L113.40 -11.06L115.07 -10.27L115.91 -7.90L115.91 0.00M115.91 -7.90L118.41 -10.27L120.08 -11.06L122.59 -11.06L124.26 -10.27L125.10 -7.90L125.10 0.00M152.80 -8.69L152.02 -10.27L149.67 -11.06L147.33 -11.06L144.98 -10.27L144.20 -8.69L144.98 -7.11L146.55 -6.32L150.45 -5.53L152.02 -4.74L152.80 -3.16L152.80 -2.37L152.02 -0.79L149.67 0.00L147.33 0.00L144.98 -0.79L144.20 -2.37M186.94 -19.75L186.94 5.53M187.40 -19.75L187.40 5.53M182.00 -19.75L187.40 -19.75M182.00 5.53L187.40 5.53" stroke="#000" stroke-width="1.6"/><path d="M21.85 2.45L20.68 1.35L19.52 0.80L17.77 0.80L16.60 1.35L15.43 2.45L14.85 4.10L14.85 5.20L15.43 6.85L16.60 7.95L17.77 8.50L19.52 8.50L20.68 7.95L21.85 6.85M158.75 -12.63L166.35 -12.63M172.15 -16.39L173.09 -16.86L174.50 -18.27L174.50 -8.40" stroke="#000" stroke-width="1.3"/></g>
<!-- curve labels -->
<path d="M280.50 182.72L280.50 199.00M280.50 182.72L286.83 199.00M293.15 182.72L286.83 199.00M293.15 182.72L293.15 199.00M306.60 185.05L306.60 199.00M299.48 192.03L313.72 192.03M321.63 185.82L323.21 185.05L325.58 182.72L325.58 199.00M337.45 185.82L339.03 185.05L341.40 182.72L341.40 199.00" stroke="#999" stroke-width="1.5"/>
<path d="M504.20 227.21L504.20 243.80M504.20 227.21L509.68 227.21L512.02 228.00L513.59 229.58L514.37 231.16L515.15 233.53L515.15 237.48L514.37 239.85L513.59 241.43L512.02 243.01L509.68 243.80L504.20 243.80M527.68 229.58L527.68 243.80M520.63 236.69L534.72 236.69M542.54 230.37L544.11 229.58L546.46 227.21L546.46 243.80M560.54 227.21L558.19 228.00L556.63 230.37L555.85 234.32L555.85 236.69L556.63 240.64L558.19 243.01L560.54 243.80L562.11 243.80L564.45 243.01L566.02 240.64L566.80 236.69L566.80 234.32L566.02 230.37L564.45 228.00L562.11 227.21L560.54 227.21" stroke="#9932cc" stroke-width="1.5"/>
<path d="M688.50 176.22L688.50 192.50M688.50 176.22L694.89 192.50M701.27 176.22L694.89 192.50M701.27 176.22L701.27 192.50M717.24 181.65L716.44 183.97L714.84 185.53L712.45 186.30L711.65 186.30L709.25 185.53L707.66 183.97L706.86 181.65L706.86 180.88L707.66 178.55L709.25 177.00L711.65 176.22L712.45 176.22L714.84 177.00L716.44 178.55L717.24 181.65L717.24 185.53L716.44 189.40L714.84 191.72L712.45 192.50L710.85 192.50L708.46 191.72L707.66 190.18M733.20 181.65L732.40 183.97L730.81 185.53L728.41 186.30L727.61 186.30L725.22 185.53L723.62 183.97L722.82 181.65L722.82 180.88L723.62 178.55L725.22 177.00L727.61 176.22L728.41 176.22L730.81 177.00L732.40 178.55L733.20 181.65L733.20 185.53L732.40 189.40L730.81 191.72L728.41 192.50L726.81 192.50L724.42 191.72L723.62 190.18" stroke="#0e960e" stroke-width="1.5"/>
<path d="M641.60 307.83L641.60 324.10M641.60 307.83L648.62 307.83L650.96 308.60L651.74 309.38L652.52 310.93L652.52 312.48L651.74 314.03L650.96 314.80L648.62 315.58L641.60 315.58M647.06 315.58L652.52 324.10M657.97 307.83L657.97 324.10M668.89 307.83L657.97 318.68M661.87 314.80L668.89 324.10M678.25 307.83L675.91 308.60L674.35 310.93L673.57 314.80L673.57 317.12L674.35 321.00L675.91 323.33L678.25 324.10L679.81 324.10L682.14 323.33L683.70 321.00L684.48 317.12L684.48 314.80L683.70 310.93L682.14 308.60L679.81 307.83L678.25 307.83M691.50 310.93L693.06 310.15L695.40 307.83L695.40 324.10" stroke="#ff8c00" stroke-width="1.5"/>
<path d="M585.77 592.48L584.23 590.92L582.68 590.15L580.36 590.15L578.82 590.92L577.27 592.48L576.50 594.80L576.50 596.35L577.27 598.67L578.82 600.23L580.36 601.00L582.68 601.00L584.23 600.23L585.77 598.67M594.27 590.15L592.72 590.92L591.18 592.48L590.40 594.80L590.40 596.35L591.18 598.67L592.72 600.23L594.27 601.00L596.59 601.00L598.13 600.23L599.67 598.67L600.45 596.35L600.45 594.80L599.67 592.48L598.13 590.92L596.59 590.15L594.27 590.15M605.86 590.15L605.86 601.00M605.86 593.25L608.17 590.92L609.72 590.15L612.03 590.15L613.58 590.92L614.35 593.25L614.35 601.00M628.26 592.48L627.49 590.92L625.17 590.15L622.85 590.15L620.53 590.92L619.76 592.48L620.53 594.02L622.08 594.80L625.94 595.58L627.49 596.35L628.26 597.90L628.26 598.67L627.49 600.23L625.17 601.00L622.85 601.00L620.53 600.23L619.76 598.67M634.44 584.73L634.44 597.90L635.21 600.23L636.75 601.00L638.30 601.00M632.12 590.15L637.53 590.15M656.33 584.73L652.10 601.00M656.33 584.73L658.28 601.00M668.69 584.73L658.28 601.00M668.69 584.73L664.46 601.00M688.03 581.62L667.68 606.42M691.86 584.73L687.63 601.00M687.63 601.00L696.90 601.00" stroke="#5f9ea0" stroke-width="1.5"/>
</g>
</svg>
</body></html>
